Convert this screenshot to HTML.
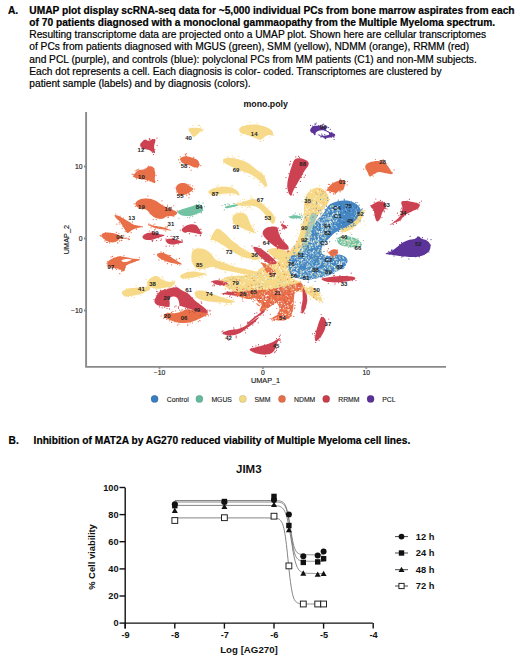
<!DOCTYPE html>
<html><head><meta charset="utf-8">
<style>
html,body{margin:0;padding:0;background:#fff;}
body{width:520px;height:657px;position:relative;overflow:hidden;font-family:"Liberation Sans",sans-serif;color:#000;}
.t{position:absolute;white-space:nowrap;font-size:10.2px;line-height:12.2px;-webkit-text-stroke:0.2px #000;}
.b{font-weight:bold;}
svg{position:absolute;left:0;top:0;}
</style></head><body>
<div class="t b" style="left:8px;top:4.90px">A.</div>
<div class="t b" style="left:29.3px;top:4.90px">UMAP plot display scRNA-seq data for ~5,000 individual PCs from bone marrow aspirates from each</div>
<div class="t b" style="left:29.3px;top:17.05px">of 70 patients diagnosed with a monoclonal gammaopathy from the Multiple Myeloma spectrum.</div>
<div class="t" style="left:29.3px;top:29.20px">Resulting transcriptome data are projected onto a UMAP plot. Shown here are cellular transcriptomes</div>
<div class="t" style="left:29.3px;top:41.35px">of PCs from patients diagnosed with MGUS (green), SMM (yellow), NDMM (orange), RRMM (red)</div>
<div class="t" style="left:29.3px;top:53.50px">and PCL (purple), and controls (blue): polyclonal PCs from MM patients (C1) and non-MM subjects.</div>
<div class="t" style="left:29.3px;top:65.65px">Each dot represents a cell. Each diagnosis is color- coded. Transcriptomes are clustered by</div>
<div class="t" style="left:29.3px;top:77.80px">patient sample (labels) and by diagnosis (colors).</div>
<div class="t b" style="left:8.6px;top:434.5px">B.</div>
<div class="t b" style="left:33.6px;top:434.5px">Inhibition of MAT2A by AG270 reduced viability of Multiple Myeloma cell lines.</div>

<svg width="520" height="657" viewBox="0 0 520 657" style="font-family:'Liberation Sans',sans-serif">
<g id="blobs"><path fill="#f7da89" d="M304.0 207.0C304.3 204.0 304.8 198.8 306.0 196.0C307.2 193.2 309.0 191.4 311.0 190.0C313.0 188.6 315.8 187.5 318.0 187.5C320.2 187.5 322.3 188.8 324.0 190.0C325.7 191.2 327.2 193.2 328.0 195.0C328.8 196.8 329.3 199.2 329.0 201.0C328.7 202.8 327.5 204.0 326.0 206.0C324.5 208.0 321.8 210.7 320.0 213.0C318.2 215.3 316.3 217.5 315.0 220.0C313.7 222.5 313.0 225.0 312.0 228.0C311.0 231.0 310.2 234.7 309.0 238.0C307.8 241.3 306.8 245.3 305.0 248.0C303.2 250.7 300.3 252.5 298.0 254.0C295.7 255.5 293.0 255.7 291.0 257.0C289.0 258.3 287.3 261.8 286.0 262.0C284.7 262.2 282.3 260.0 283.0 258.0C283.7 256.0 287.8 252.5 290.0 250.0C292.2 247.5 294.3 245.8 296.0 243.0C297.7 240.2 298.8 236.5 300.0 233.0C301.2 229.5 302.3 225.2 303.0 222.0C303.7 218.8 303.8 216.5 304.0 214.0C304.2 211.5 303.7 210.0 304.0 207.0Z"/>
<path fill="#f7da89" d="M222.0 279.0C223.3 277.9 225.7 277.0 228.0 276.5C230.3 276.0 233.0 276.2 236.0 276.0C239.0 275.8 242.7 275.7 246.0 275.0C249.3 274.3 253.3 273.3 256.0 272.0C258.7 270.7 259.7 268.5 262.0 267.0C264.3 265.5 267.3 264.0 270.0 263.0C272.7 262.0 275.7 261.7 278.0 261.0C280.3 260.3 282.0 259.0 284.0 259.0C286.0 259.0 288.7 259.2 290.0 261.0C291.3 262.8 291.7 267.2 292.0 270.0C292.3 272.8 290.7 276.0 292.0 278.0C293.3 280.0 297.8 280.5 300.0 282.0C302.2 283.5 303.0 285.8 305.0 287.0C307.0 288.2 309.8 287.8 312.0 289.0C314.2 290.2 316.5 292.2 318.0 294.0C319.5 295.8 321.3 299.0 321.0 300.0C320.7 301.0 318.2 301.0 316.0 300.0C313.8 299.0 310.7 295.5 308.0 294.0C305.3 292.5 302.5 291.8 300.0 291.0C297.5 290.2 295.3 289.5 293.0 289.0C290.7 288.5 288.5 288.0 286.0 288.0C283.5 288.0 281.0 288.5 278.0 289.0C275.0 289.5 271.3 290.1 268.0 291.0C264.7 291.9 261.3 293.5 258.0 294.5C254.7 295.5 251.0 296.9 248.0 297.0C245.0 297.1 242.7 296.0 240.0 295.0C237.3 294.0 234.3 292.3 232.0 291.0C229.7 289.7 228.0 288.3 226.0 287.0C224.0 285.7 220.7 284.3 220.0 283.0C219.3 281.7 220.7 280.1 222.0 279.0Z"/>
<path fill="#f7da89" d="M268.0 250.0C268.7 248.7 273.3 248.0 276.0 248.0C278.7 248.0 281.8 249.2 284.0 250.0C286.2 250.8 288.0 251.7 289.0 253.0C290.0 254.3 290.8 256.8 290.0 258.0C289.2 259.2 286.0 259.7 284.0 260.0C282.0 260.3 280.0 260.7 278.0 260.0C276.0 259.3 273.7 257.7 272.0 256.0C270.3 254.3 267.3 251.3 268.0 250.0Z"/>
<path fill="#f7da89" d="M180.0 276.0C180.5 275.0 183.7 273.2 186.0 272.5C188.3 271.8 191.7 271.5 194.0 271.5C196.3 271.5 198.0 272.1 200.0 272.5C202.0 272.9 206.3 273.3 206.0 274.0C205.7 274.7 200.7 275.8 198.0 276.5C195.3 277.2 192.5 277.7 190.0 278.0C187.5 278.3 184.7 278.8 183.0 278.5C181.3 278.2 179.5 277.0 180.0 276.0Z"/>
<path fill="#cd4252" d="M140.2 144.3C140.6 142.8 143.5 140.3 144.8 139.7C146.2 139.1 146.6 140.9 148.3 140.8C150.0 140.7 154.2 138.2 155.2 139.2C156.2 140.2 154.2 144.3 154.1 146.6C154.0 148.9 155.6 152.5 154.8 153.1C154.0 153.7 151.6 150.9 149.5 150.1C147.4 149.3 144.1 149.5 142.5 148.5C140.9 147.5 139.8 145.8 140.2 144.3Z"/>
<path fill="#f7da89" d="M188.7 128.6C189.7 127.6 194.5 127.6 196.8 127.7C199.1 127.8 202.1 128.5 202.5 129.3C202.9 130.2 200.4 131.5 199.0 132.8C197.6 134.1 195.3 136.7 194.0 136.9C192.7 137.1 191.9 135.3 191.0 133.9C190.1 132.5 187.7 129.6 188.7 128.6Z"/>
<path fill="#e86f48" d="M180.6 158.2C181.3 157.3 183.3 156.4 185.2 156.3C187.1 156.2 190.1 157.0 192.2 157.7C194.3 158.4 196.8 159.1 198.0 160.5C199.2 161.9 199.7 165.0 199.1 166.2C198.5 167.3 196.2 167.6 194.5 167.4C192.8 167.2 190.4 165.6 188.7 165.0C187.0 164.4 185.4 164.5 184.1 163.9C182.8 163.3 181.7 162.6 181.1 161.6C180.5 160.6 179.9 159.1 180.6 158.2Z"/>
<path fill="#f7da89" d="M239.5 128.2C240.3 127.0 242.3 126.0 245.2 125.4C248.1 124.8 253.3 124.4 256.8 124.7C260.3 125.0 263.5 126.0 266.0 127.0C268.5 128.0 270.7 129.2 271.8 130.5C272.9 131.8 273.5 134.3 272.9 135.1C272.3 135.9 269.8 134.7 268.3 135.1C266.8 135.5 265.1 136.6 263.7 137.4C262.3 138.2 261.7 139.6 260.2 139.7C258.7 139.8 256.6 138.6 254.5 137.8C252.4 137.0 249.8 135.9 247.5 135.1C245.2 134.3 241.9 134.0 240.6 132.8C239.3 131.7 238.7 129.4 239.5 128.2Z"/>
<path fill="#5b3399" d="M310.4 129.3C310.8 128.4 311.9 126.8 313.0 126.2C314.1 125.6 315.9 125.8 317.3 125.8C318.7 125.8 320.2 126.1 321.6 126.2C323.1 126.3 325.3 125.6 326.0 126.2C326.7 126.8 325.4 129.2 326.0 130.1C326.6 131.0 328.1 131.3 329.4 131.9C330.7 132.5 332.8 133.0 333.8 133.6C334.8 134.2 335.8 134.8 335.2 135.5C334.6 136.2 332.0 137.1 330.3 137.5C328.6 137.9 326.7 138.1 325.1 137.9C323.5 137.8 321.7 137.2 320.8 136.6C319.9 136.0 320.6 134.9 319.9 134.5C319.2 134.1 317.3 133.9 316.4 134.0C315.5 134.1 315.3 135.4 314.7 135.3C314.1 135.2 313.6 133.8 313.0 133.2C312.4 132.6 311.2 132.6 310.8 131.9C310.4 131.2 310.0 130.2 310.4 129.3Z"/>
<path fill="#f7da89" d="M223.3 159.3C224.1 158.5 226.5 157.7 229.0 157.7C231.5 157.7 235.2 158.5 238.3 159.3C241.4 160.2 244.4 161.1 247.5 162.8C250.6 164.5 254.1 167.6 256.8 169.7C259.5 171.8 262.0 172.9 263.7 175.5C265.4 178.1 267.0 183.3 267.2 185.1C267.4 186.9 266.2 187.0 264.8 186.2C263.4 185.3 261.5 182.0 259.0 180.0C256.5 178.0 253.2 175.6 250.0 174.0C246.8 172.4 243.3 171.8 240.0 170.5C236.7 169.2 232.7 167.3 230.0 166.0C227.3 164.7 225.1 163.6 224.0 162.5C222.9 161.4 222.5 160.1 223.3 159.3Z"/>
<path fill="#cd4252" d="M295.0 159.2C296.4 158.1 298.7 158.0 300.8 158.3C302.9 158.6 306.2 160.1 307.5 161.2C308.8 162.3 309.0 163.4 308.5 165.0C308.0 166.6 305.9 168.7 304.6 170.8C303.3 172.9 302.1 175.3 300.8 177.5C299.5 179.7 298.2 181.9 296.9 184.2C295.6 186.4 294.1 189.1 293.1 191.0C292.2 192.9 292.0 195.7 291.2 195.8C290.4 196.0 288.9 193.8 288.3 191.9C287.7 190.0 287.2 187.1 287.3 184.2C287.4 181.3 288.4 177.8 289.2 174.6C290.0 171.4 291.1 167.6 292.1 165.0C293.1 162.4 293.6 160.3 295.0 159.2Z"/>
<path fill="#e86f48" d="M365.2 166.2C365.6 164.6 367.7 163.2 369.8 162.3C371.9 161.4 375.4 160.8 377.9 160.9C380.4 161.0 382.9 161.5 384.8 162.8C386.7 164.1 388.3 166.7 389.5 168.5C390.7 170.3 392.4 173.1 391.8 173.9C391.2 174.7 388.1 173.5 386.0 173.2C383.9 172.9 381.2 171.8 379.1 172.0C377.0 172.2 374.9 173.5 373.3 174.3C371.8 175.1 370.8 177.0 369.8 176.6C368.8 176.2 368.3 173.7 367.5 172.0C366.7 170.3 364.8 167.8 365.2 166.2Z"/>
<path fill="#e86f48" d="M133.3 175.7C134.0 174.5 136.0 171.5 137.9 170.4C139.8 169.3 143.1 169.8 144.8 169.2C146.5 168.5 147.0 166.9 148.3 166.5C149.7 166.1 151.8 165.9 152.9 166.9C154.1 167.9 154.9 170.8 155.2 172.7C155.5 174.6 154.9 176.8 154.8 178.5C154.7 180.2 155.7 182.7 154.8 183.1C153.9 183.5 151.3 181.4 149.5 180.8C147.7 180.2 145.6 180.0 143.7 179.6C141.8 179.2 139.5 178.9 137.9 178.5C136.3 178.1 134.8 177.8 134.0 177.3C133.2 176.8 132.7 176.8 133.3 175.7Z"/>
<path fill="#e86f48" d="M176.0 187.7C176.2 186.3 177.0 185.0 178.3 184.2C179.7 183.4 182.4 182.9 184.1 183.1C185.8 183.3 187.2 184.4 188.7 185.4C190.2 186.4 193.1 187.7 193.3 188.8C193.5 190.0 191.2 191.3 189.9 192.3C188.6 193.3 186.8 194.0 185.2 194.6C183.6 195.2 181.9 196.2 180.6 195.8C179.3 195.4 178.0 193.7 177.2 192.3C176.4 191.0 175.8 189.0 176.0 187.7Z"/>
<path fill="#e86f48" d="M135.6 202.7C136.2 201.5 138.3 199.9 140.2 199.2C142.1 198.5 144.7 198.3 147.2 198.5C149.7 198.7 152.7 199.3 155.2 200.4C157.7 201.5 159.9 203.7 162.2 205.0C164.5 206.3 167.2 207.6 169.1 208.5C171.0 209.4 172.3 209.6 173.7 210.3C175.0 211.0 177.0 211.8 177.2 212.6C177.4 213.4 176.6 214.8 174.9 215.4C173.2 216.1 168.9 215.9 166.8 216.5C164.7 217.1 164.1 218.6 162.2 218.8C160.3 219.0 157.1 218.5 155.2 217.7C153.3 216.9 152.1 215.5 150.6 214.2C149.1 212.8 147.7 210.5 146.0 209.6C144.3 208.7 141.8 209.1 140.2 208.5C138.6 207.9 137.1 207.2 136.3 206.2C135.5 205.2 134.9 203.9 135.6 202.7Z"/>
<path fill="#72c2a4" d="M177.5 211.5C178.1 210.6 181.0 209.8 183.0 209.0C185.0 208.2 187.4 207.7 189.5 207.0C191.6 206.3 193.7 205.4 195.5 205.0C197.3 204.6 199.2 204.3 200.5 204.8C201.8 205.3 202.8 206.9 203.0 208.0C203.2 209.1 203.0 210.5 202.0 211.5C201.0 212.5 198.8 213.1 197.0 213.8C195.2 214.5 193.2 215.5 191.0 215.8C188.8 216.1 186.0 216.1 184.1 215.8C182.2 215.5 180.6 214.9 179.5 214.2C178.4 213.5 176.9 212.4 177.5 211.5Z"/>
<path fill="#f7da89" d="M208.3 192.0C208.3 190.8 210.6 189.4 212.9 188.5C215.2 187.6 219.1 186.9 222.2 186.7C225.3 186.5 228.9 186.7 231.4 187.4C233.9 188.1 235.8 189.5 237.2 190.8C238.5 192.2 240.1 195.0 239.5 195.5C238.9 196.0 235.8 194.0 233.7 193.6C231.6 193.2 229.1 193.1 226.8 193.2C224.5 193.3 222.1 193.9 219.8 194.3C217.5 194.7 214.8 195.9 212.9 195.5C211.0 195.1 208.3 193.2 208.3 192.0Z"/>
<path fill="#f7da89" d="M236.0 204.2C236.8 203.4 242.5 202.1 245.2 201.2C247.9 200.3 250.3 199.1 252.2 198.9C254.1 198.7 254.9 199.1 256.8 200.1C258.7 201.1 261.8 203.2 263.7 204.7C265.6 206.2 266.8 207.8 268.3 209.3C269.8 210.8 271.8 212.4 272.9 213.9C274.0 215.4 275.0 216.9 275.2 218.5C275.4 220.1 274.9 222.6 274.1 223.2C273.3 223.8 271.8 223.0 270.6 222.0C269.5 221.0 268.6 219.1 267.2 217.4C265.8 215.7 264.2 213.3 262.5 211.6C260.8 209.9 258.9 208.0 256.8 207.0C254.7 206.0 252.5 206.0 249.8 205.8C247.1 205.6 242.9 206.1 240.6 205.8C238.3 205.5 235.2 205.0 236.0 204.2Z"/>
<path fill="#72c2a4" d="M225.6 206.5C226.4 206.0 229.1 205.5 231.0 205.2C232.9 204.8 236.0 204.3 237.0 204.4C238.0 204.5 238.0 205.5 237.0 206.0C236.0 206.5 232.8 206.8 231.0 207.2C229.2 207.6 226.9 208.3 226.0 208.2C225.1 208.1 224.8 207.0 225.6 206.5Z"/>
<path fill="#f7da89" d="M232.5 217.4C232.9 215.8 234.4 214.3 236.0 213.5C237.6 212.7 240.1 212.5 241.8 212.8C243.5 213.1 245.2 213.9 246.4 215.1C247.6 216.2 247.9 218.0 248.7 219.7C249.5 221.4 250.0 223.4 251.0 225.5C252.0 227.6 254.7 231.5 254.5 232.4C254.3 233.3 251.5 231.8 249.8 231.2C248.1 230.6 246.0 229.7 244.1 228.9C242.2 228.1 240.0 227.6 238.3 226.6C236.6 225.6 234.7 224.7 233.7 223.2C232.7 221.7 232.1 219.0 232.5 217.4Z"/>
<path fill="#e86f48" d="M114.8 215.1C115.6 214.9 118.3 215.8 120.6 216.9C122.9 218.0 126.4 220.2 128.7 221.5C131.0 222.8 132.2 224.2 134.5 225.0C136.8 225.8 142.3 226.0 142.5 226.6C142.7 227.2 137.5 227.8 135.6 228.5C133.7 229.2 132.3 230.0 131.0 230.8C129.7 231.6 128.5 233.3 127.5 233.1C126.5 232.9 126.0 231.3 124.8 229.6C123.6 227.9 122.1 224.6 120.6 222.7C119.1 220.8 117.0 219.4 116.0 218.1C115.0 216.8 114.0 215.3 114.8 215.1Z"/>
<path fill="#e86f48" d="M148.3 225.0C148.7 224.7 154.6 225.7 157.5 226.2C160.4 226.7 163.3 227.2 165.6 228.0C167.9 228.8 171.6 230.5 171.4 230.8C171.2 231.1 167.2 230.1 164.5 229.6C161.8 229.1 157.9 228.8 155.2 228.0C152.5 227.2 147.9 225.3 148.3 225.0Z"/>
<path fill="#cd4252" d="M181.8 229.6C182.0 228.5 183.7 227.1 185.2 226.2C186.7 225.3 189.1 224.4 191.0 224.3C192.9 224.2 195.3 224.6 196.8 225.7C198.3 226.8 199.5 229.4 200.2 230.8C200.9 232.2 201.8 233.8 200.9 234.2C200.0 234.6 196.5 233.5 194.5 233.1C192.5 232.7 190.4 232.0 188.7 231.9C187.0 231.8 185.2 233.0 184.1 232.6C182.9 232.2 181.6 230.7 181.8 229.6Z"/>
<path fill="#e86f48" d="M101.7 234.2C102.4 233.3 105.0 232.8 106.8 232.6C108.6 232.4 110.8 232.8 112.5 233.1C114.2 233.4 115.5 233.5 117.2 234.2C118.9 234.9 121.0 236.4 122.9 237.2C124.8 238.0 129.1 238.5 128.7 238.8C128.3 239.1 122.7 238.3 120.6 238.8C118.5 239.3 117.7 241.2 116.0 241.8C114.3 242.4 111.9 242.6 110.2 242.3C108.5 242.0 106.9 240.8 105.6 240.0C104.3 239.2 103.2 238.7 102.6 237.7C101.9 236.7 101.0 235.0 101.7 234.2Z"/>
<path fill="#cd4252" d="M142.5 236.5C142.9 235.4 145.3 233.8 147.2 233.1C149.1 232.4 152.0 232.4 154.1 232.6C156.2 232.8 158.2 233.7 159.9 234.2C161.6 234.7 164.5 234.9 164.5 235.4C164.5 235.9 161.5 236.6 159.9 237.2C158.3 237.8 156.8 238.3 155.2 238.8C153.6 239.3 152.3 239.9 150.6 240.0C148.9 240.1 146.2 240.1 144.8 239.5C143.5 238.9 142.1 237.6 142.5 236.5Z"/>
<path fill="#cd4252" d="M165.6 240.0C166.0 239.2 168.5 238.9 170.2 238.8C171.9 238.7 173.9 238.9 176.0 239.5C178.1 240.1 182.5 241.6 182.9 242.3C183.3 243.0 180.0 243.1 178.3 243.5C176.6 243.9 174.2 244.6 172.5 244.6C170.8 244.6 169.1 244.3 167.9 243.5C166.8 242.7 165.2 240.8 165.6 240.0Z"/>
<path fill="#e86f48" d="M107.9 261.9C108.7 260.8 110.6 259.4 112.5 258.5C114.4 257.6 117.2 256.4 119.5 256.2C121.8 256.0 124.3 256.9 126.4 257.3C128.5 257.7 129.9 258.1 132.2 258.5C134.5 258.9 139.8 259.0 140.2 259.6C140.6 260.2 136.8 260.9 134.5 261.9C132.2 262.9 128.1 263.8 126.4 265.4C124.7 266.9 125.4 270.6 124.1 271.2C122.8 271.8 120.4 269.4 118.3 268.8C116.2 268.2 113.1 268.3 111.4 267.7C109.7 267.1 108.5 266.4 107.9 265.4C107.3 264.4 107.1 263.0 107.9 261.9Z"/>
<path fill="#ffffff" d="M121.5 260.2C121.9 259.7 124.3 259.1 126.0 259.0C127.7 258.9 131.2 259.2 131.5 259.6C131.8 260.0 129.3 261.0 128.0 261.4C126.7 261.8 124.6 262.2 123.5 262.0C122.4 261.8 121.1 260.7 121.5 260.2Z"/>
<path fill="#e86f48" d="M157.5 253.8C158.3 253.2 160.5 252.5 162.2 252.7C163.9 252.9 165.8 253.8 167.9 255.0C170.0 256.1 172.6 258.1 174.9 259.6C177.2 261.1 181.8 263.6 181.8 264.2C181.8 264.8 177.2 263.9 174.9 263.5C172.6 263.1 170.2 262.7 167.9 261.9C165.6 261.1 162.7 259.8 161.0 258.9C159.3 257.9 158.1 257.0 157.5 256.2C156.9 255.3 156.7 254.4 157.5 253.8Z"/>
<path fill="#f7da89" d="M192.1 251.9C192.7 250.3 193.2 249.8 194.8 249.2C196.4 248.6 199.5 248.4 201.5 248.6C203.5 248.8 205.3 249.7 206.9 250.6C208.5 251.5 209.9 252.8 211.0 253.9C212.1 255.0 212.7 256.3 213.6 257.3C214.5 258.3 214.7 259.1 216.3 260.0C217.9 260.9 220.6 261.8 223.1 262.7C225.6 263.6 228.2 264.5 231.1 265.4C234.0 266.3 237.4 267.3 240.6 268.1C243.8 268.9 247.1 269.5 250.0 270.1C252.9 270.8 256.0 271.4 258.0 272.0C260.0 272.6 262.0 273.3 262.0 274.0C262.0 274.7 260.0 275.8 258.0 276.0C256.0 276.2 252.9 275.4 250.0 275.0C247.1 274.6 243.8 274.1 240.6 273.5C237.4 272.9 234.5 272.1 231.1 271.4C227.7 270.7 223.5 270.2 220.4 269.4C217.3 268.6 214.6 266.9 212.3 266.7C210.1 266.5 208.9 267.7 206.9 268.1C204.9 268.6 202.0 269.4 200.2 269.4C198.4 269.4 197.4 269.0 196.2 268.1C195.0 267.2 193.6 265.6 192.8 264.0C192.0 262.4 191.5 260.6 191.4 258.6C191.3 256.6 191.5 253.5 192.1 251.9Z"/>
<path fill="#f7da89" d="M211.0 237.8C211.4 236.2 213.7 231.9 215.0 230.4C216.3 228.9 217.4 228.6 219.0 229.0C220.6 229.4 222.4 231.3 224.4 233.1C226.4 234.9 228.8 237.8 231.1 239.8C233.3 241.8 235.7 243.5 237.9 245.2C240.2 246.9 242.6 248.7 244.6 249.9C246.6 251.1 248.1 251.8 250.0 252.6C251.9 253.4 254.3 254.1 256.0 255.0C257.7 255.9 260.2 257.2 260.0 258.0C259.8 258.8 256.7 259.9 255.0 260.0C253.3 260.1 251.9 259.1 250.0 258.6C248.1 258.2 245.6 258.1 243.3 257.3C241.1 256.5 238.8 255.1 236.5 253.9C234.2 252.7 232.0 251.4 229.8 249.9C227.6 248.4 225.3 246.6 223.1 245.2C220.8 243.8 218.1 242.1 216.3 241.2C214.5 240.3 213.2 240.4 212.3 239.8C211.4 239.2 210.6 239.4 211.0 237.8Z"/>
<path fill="#cd4252" d="M263.0 231.3C263.7 229.7 266.0 227.8 268.3 227.1C270.6 226.4 274.9 226.0 276.7 227.1C278.5 228.2 278.0 231.4 278.9 233.5C279.8 235.6 280.6 237.9 282.0 239.8C283.4 241.7 286.2 243.5 287.3 245.1C288.4 246.7 289.4 248.6 288.4 249.3C287.3 250.0 283.3 249.8 281.0 249.3C278.7 248.8 276.7 247.6 274.6 246.2C272.5 244.8 270.1 242.5 268.3 240.9C266.5 239.3 264.9 238.2 264.0 236.6C263.1 235.0 262.3 232.9 263.0 231.3Z"/>
<path fill="#cd4252" d="M253.5 247.2C253.8 246.1 257.7 247.4 259.8 248.3C261.9 249.2 264.1 250.9 266.2 252.5C268.3 254.1 270.8 256.0 272.5 257.8C274.2 259.6 277.1 262.1 276.7 263.1C276.3 264.2 272.5 264.6 270.4 264.1C268.3 263.6 266.1 261.5 264.0 259.9C261.9 258.3 259.4 256.7 257.7 254.6C255.9 252.5 253.2 248.2 253.5 247.2Z"/>
<path fill="#f7da89" d="M121.8 292.3C122.2 291.0 125.2 289.6 127.5 288.8C129.8 288.0 132.9 287.9 135.6 287.7C138.3 287.5 141.5 287.7 143.7 287.5C145.9 287.3 147.9 286.2 149.0 286.5C150.1 286.8 150.7 288.5 150.0 289.5C149.3 290.5 146.6 291.4 144.8 292.3C143.0 293.2 141.2 294.0 139.1 294.6C137.0 295.2 134.5 295.5 132.2 295.8C129.9 296.1 126.9 297.1 125.2 296.5C123.5 295.9 121.4 293.6 121.8 292.3Z"/>
<path fill="#f7da89" d="M147.2 281.9C147.8 280.5 150.1 278.2 151.8 277.3C153.5 276.4 155.8 275.8 157.5 276.2C159.2 276.6 160.3 278.7 162.2 279.6C164.1 280.6 167.0 281.5 169.1 281.9C171.2 282.3 174.5 281.1 174.9 281.9C175.3 282.7 173.1 285.5 171.4 286.5C169.7 287.5 166.8 287.3 164.5 287.7C162.2 288.1 159.6 288.8 157.5 288.8C155.4 288.8 153.4 288.3 151.8 287.7C150.2 287.1 148.7 286.4 147.9 285.4C147.1 284.4 146.5 283.2 147.2 281.9Z"/>
<path fill="#cd4252" d="M154.4 301.5C154.3 300.1 155.5 297.9 156.4 296.2C157.3 294.5 158.3 292.5 159.8 291.4C161.3 290.3 163.2 289.9 165.2 289.4C167.2 288.8 169.9 288.4 171.9 288.1C173.9 287.8 175.5 286.9 177.3 287.4C179.1 287.8 180.9 289.8 182.7 290.8C184.5 291.8 186.5 292.4 188.1 293.5C189.7 294.6 190.8 296.2 192.1 297.5C193.4 298.8 194.5 300.1 196.1 301.5C197.7 302.9 199.8 304.2 201.5 305.6C203.2 307.0 205.2 308.4 206.2 309.6C207.2 310.8 208.1 312.3 207.6 313.0C207.1 313.7 204.8 313.9 202.9 313.6C201.0 313.3 198.2 311.8 196.0 311.0C193.8 310.2 192.0 309.7 190.0 309.0C188.0 308.3 185.7 307.5 184.0 307.0C182.3 306.5 181.5 306.0 180.0 306.0C178.5 306.0 176.8 306.9 175.0 307.0C173.2 307.1 171.1 307.0 169.0 306.9C166.9 306.8 164.5 306.5 162.5 306.2C160.5 305.9 158.4 305.7 157.1 304.9C155.8 304.1 154.5 302.9 154.4 301.5Z"/>
<path fill="#ffffff" d="M169.5 298.5C170.0 297.3 171.8 296.6 173.0 296.5C174.2 296.4 176.0 296.9 177.0 297.8C178.0 298.7 178.6 300.4 179.0 302.0C179.4 303.6 179.7 305.9 179.5 307.5C179.3 309.1 179.1 310.7 178.0 311.5C176.9 312.3 174.4 312.5 173.0 312.2C171.6 311.9 170.0 310.9 169.5 309.5C169.0 308.1 169.8 305.3 169.8 303.5C169.8 301.7 169.0 299.7 169.5 298.5Z"/>
<path fill="#e86f48" d="M163.8 315.0C164.4 314.3 166.1 313.3 167.9 313.0C169.7 312.7 172.4 313.4 174.6 313.2C176.8 313.0 179.5 312.4 181.3 311.8C183.1 311.2 184.0 310.0 185.4 309.6C186.8 309.2 188.2 309.3 190.0 309.5C191.8 309.7 194.0 310.5 196.0 311.0C198.0 311.5 200.1 312.2 202.0 312.5C203.9 312.8 207.1 312.4 207.6 313.0C208.1 313.6 206.5 315.0 205.0 316.0C203.5 317.0 201.0 318.1 198.8 319.0C196.7 319.9 194.8 321.0 192.1 321.7C189.4 322.4 185.6 323.1 182.7 323.1C179.8 323.1 177.1 322.4 174.6 321.7C172.1 321.0 169.6 319.8 167.9 319.0C166.2 318.2 165.2 317.7 164.5 317.0C163.8 316.3 163.2 315.7 163.8 315.0Z"/>
<path fill="#f7da89" d="M195.0 292.0C195.8 291.1 198.2 290.6 200.0 290.5C201.8 290.4 203.8 290.9 206.0 291.5C208.2 292.1 210.5 293.1 213.0 294.0C215.5 294.9 218.3 296.1 221.0 297.0C223.7 297.9 226.7 298.8 229.0 299.5C231.3 300.2 234.8 300.9 235.0 301.5C235.2 302.1 232.3 302.8 230.0 303.0C227.7 303.2 223.8 302.7 221.0 302.5C218.2 302.3 215.5 302.2 213.0 302.0C210.5 301.8 208.3 301.5 206.0 301.0C203.7 300.5 200.8 299.8 199.0 299.0C197.2 298.2 196.2 297.2 195.5 296.0C194.8 294.8 194.2 292.9 195.0 292.0Z"/>
<path fill="#cd4252" d="M212.2 281.1C212.9 280.5 216.9 280.0 219.6 280.4C222.2 280.8 227.4 282.4 228.1 283.2C228.8 284.0 225.9 285.1 223.8 285.3C221.7 285.5 217.3 284.9 215.4 284.2C213.5 283.5 211.5 281.7 212.2 281.1Z"/>
<path fill="#cd4252" d="M221.7 293.8C222.4 293.3 228.8 291.8 232.3 291.6C235.8 291.4 240.1 292.2 242.9 292.7C245.7 293.2 249.9 294.3 249.2 294.8C248.5 295.3 242.2 295.9 238.7 295.9C235.2 295.9 230.9 295.1 228.1 294.8C225.3 294.5 221.0 294.3 221.7 293.8Z"/>
<path fill="#4586c3" d="M328.5 205.4C330.3 203.6 332.6 203.1 334.6 202.3C336.7 201.5 338.5 201.1 340.8 200.8C343.1 200.6 346.2 200.4 348.5 200.8C350.8 201.2 352.8 202.1 354.6 203.1C356.4 204.1 358.2 205.5 359.2 206.9C360.2 208.3 360.9 209.7 360.8 211.5C360.7 213.3 359.5 215.6 358.5 217.7C357.5 219.8 356.2 222.3 354.6 223.8C353.0 225.3 351.4 225.5 349.0 226.5C346.6 227.5 342.6 228.8 340.0 230.0C337.4 231.2 335.5 232.3 333.6 233.8C331.7 235.3 330.1 237.3 328.4 239.0C326.7 240.7 324.4 242.5 323.3 244.2C322.2 245.9 321.5 247.7 321.5 249.4C321.5 251.1 321.9 253.4 323.3 254.6C324.8 255.8 327.6 256.3 330.2 256.3C332.8 256.3 336.2 254.4 338.8 254.6C341.4 254.8 344.2 256.1 345.7 257.2C347.1 258.3 347.8 259.9 347.5 261.5C347.2 263.1 345.7 265.1 344.0 266.7C342.3 268.3 339.7 269.6 337.1 271.0C334.5 272.4 331.6 274.2 328.4 275.4C325.2 276.6 321.4 277.3 318.0 278.0C314.6 278.7 311.1 279.7 307.7 279.7C304.2 279.7 300.2 279.0 297.3 278.0C294.4 277.0 291.8 275.8 290.4 273.6C289.0 271.4 288.7 267.9 288.7 265.0C288.7 262.1 288.4 258.3 290.4 256.3C292.4 254.3 298.2 255.2 300.8 252.9C303.4 250.6 304.6 246.0 306.0 242.5C307.4 239.0 308.0 234.8 309.0 232.0C310.0 229.2 310.6 228.1 312.0 226.0C313.4 223.9 315.7 221.7 317.7 219.5C319.7 217.3 322.0 215.4 323.8 213.1C325.6 210.8 326.7 207.2 328.5 205.4Z"/>
<path fill="#a9c9b0" d="M312.0 213.0C313.3 212.3 316.7 214.2 317.0 216.0C317.3 217.8 315.0 221.3 314.0 224.0C313.0 226.7 311.8 229.3 311.0 232.0C310.2 234.7 309.8 237.3 309.0 240.0C308.2 242.7 307.3 245.7 306.0 248.0C304.7 250.3 302.5 252.8 301.0 254.0C299.5 255.2 297.0 256.0 297.0 255.0C297.0 254.0 299.8 250.5 301.0 248.0C302.2 245.5 303.2 243.0 304.0 240.0C304.8 237.0 305.2 233.3 306.0 230.0C306.8 226.7 308.0 222.8 309.0 220.0C310.0 217.2 310.7 213.7 312.0 213.0Z"/>
<path fill="#e86f48" d="M326.9 190.0C326.9 189.0 328.7 186.7 330.0 185.4C331.3 184.1 333.1 183.1 334.6 182.3C336.1 181.5 337.8 181.2 339.2 180.8C340.6 180.4 342.1 179.8 343.1 180.0C344.1 180.2 345.1 181.3 345.4 182.3C345.6 183.3 345.0 184.9 344.6 186.2C344.2 187.5 344.0 189.2 343.1 190.0C342.2 190.8 340.4 190.3 339.2 190.8C338.0 191.3 337.2 192.8 336.2 193.1C335.2 193.3 334.1 192.6 333.1 192.3C332.1 192.0 331.0 191.9 330.0 191.5C329.0 191.1 326.9 191.0 326.9 190.0Z"/>
<path fill="#cd4252" d="M370.7 206.2C370.9 205.0 373.5 203.8 374.9 203.0C376.3 202.2 377.5 201.5 379.1 201.5C380.7 201.5 383.3 202.1 384.4 203.0C385.5 203.9 385.9 205.6 385.5 207.2C385.1 208.8 383.2 210.6 382.3 212.5C381.4 214.4 381.1 217.3 380.2 218.8C379.3 220.3 377.9 221.8 377.0 221.4C376.1 221.1 375.4 218.5 374.9 216.7C374.4 214.9 374.5 212.2 373.8 210.4C373.1 208.7 370.5 207.4 370.7 206.2Z"/>
<path fill="#cd4252" d="M389.7 225.2C389.9 224.8 393.2 222.6 395.0 221.0C396.8 219.4 399.1 217.8 400.3 215.7C401.5 213.6 402.2 210.6 402.4 208.3C402.6 206.0 400.8 203.1 401.3 201.9C401.8 200.7 403.7 200.9 405.6 200.9C407.6 200.9 410.7 201.4 413.0 201.9C415.3 202.4 418.4 202.9 419.3 204.0C420.2 205.1 419.5 207.1 418.3 208.3C417.1 209.5 414.0 210.4 411.9 211.4C409.8 212.4 407.5 213.2 405.6 214.6C403.7 216.0 402.2 218.5 400.3 219.9C398.4 221.3 395.8 222.2 394.0 223.1C392.2 224.0 389.5 225.5 389.7 225.2Z"/>
<path fill="#5b3399" d="M385.5 253.8C385.1 253.1 389.9 252.1 391.8 251.0C393.7 249.9 395.4 248.3 397.1 247.0C398.8 245.7 400.2 244.1 402.0 243.0C403.8 241.9 405.9 240.9 408.0 240.2C410.1 239.5 412.7 239.6 414.5 239.0C416.3 238.4 417.6 236.6 418.7 236.5C419.8 236.4 420.1 237.9 421.4 238.6C422.7 239.3 425.2 239.6 426.7 240.6C428.2 241.6 429.8 243.1 430.3 244.8C430.8 246.5 430.5 248.9 429.5 250.6C428.5 252.3 426.8 253.8 424.5 254.8C422.2 255.9 419.2 256.6 416.0 256.9C412.8 257.2 408.7 256.7 405.0 256.4C401.3 256.1 397.2 255.6 394.0 255.2C390.8 254.8 385.9 254.5 385.5 253.8Z"/>
<path fill="#72c2a4" d="M338.0 238.0C339.0 236.8 341.7 236.2 344.0 236.0C346.3 235.8 349.7 236.3 352.0 237.0C354.3 237.7 356.3 238.8 358.0 240.0C359.7 241.2 362.0 242.8 362.0 244.0C362.0 245.2 360.0 246.5 358.0 247.0C356.0 247.5 352.5 247.2 350.0 247.0C347.5 246.8 345.0 246.7 343.0 246.0C341.0 245.3 338.8 244.3 338.0 243.0C337.2 241.7 337.0 239.2 338.0 238.0Z"/>
<path fill="#f7da89" d="M351.0 224.0C353.5 222.2 354.6 221.2 356.0 219.5C357.4 217.8 358.6 215.8 359.5 214.0C360.4 212.2 360.8 209.3 361.5 209.0C362.2 208.7 363.5 210.3 363.5 212.0C363.5 213.7 362.8 216.7 361.5 219.0C360.2 221.3 358.1 224.1 356.0 226.0C353.9 227.9 351.3 229.4 349.0 230.5C346.7 231.6 343.3 232.6 342.0 232.5C340.7 232.4 339.5 231.4 341.0 230.0C342.5 228.6 348.5 225.8 351.0 224.0Z"/>
<path fill="#cd4252" d="M321.6 278.8C322.6 278.0 328.1 277.2 331.7 276.7C335.3 276.2 339.7 275.9 343.3 275.9C346.9 275.9 351.5 276.1 353.4 276.7C355.3 277.3 356.0 278.8 354.8 279.6C353.6 280.4 349.6 281.1 346.2 281.6C342.8 282.1 338.0 282.5 334.6 282.5C331.2 282.5 328.2 282.2 326.0 281.6C323.8 281.0 320.7 279.6 321.6 278.8Z"/>
<path fill="#cd4252" d="M321.0 317.5C322.0 316.3 323.2 317.1 324.0 317.8C324.8 318.5 325.9 319.6 326.0 321.5C326.1 323.4 325.7 326.9 324.8 329.5C323.9 332.1 322.1 335.3 320.5 337.2C318.9 339.1 316.3 341.5 315.5 341.0C314.7 340.5 315.2 336.7 315.6 334.0C316.0 331.3 317.1 327.8 318.0 325.0C318.9 322.2 320.0 318.7 321.0 317.5Z"/>
<path fill="#e86f48" d="M255.0 298.1C255.2 297.0 257.8 296.0 259.6 295.0C261.4 294.0 263.5 292.9 265.8 291.9C268.1 290.9 270.9 289.6 273.5 288.8C276.1 288.0 278.6 287.8 281.2 287.3C283.8 286.8 286.2 286.4 288.8 285.8C291.4 285.2 294.4 284.0 296.5 283.5C298.6 283.0 300.2 282.1 301.2 282.7C302.2 283.3 303.0 286.0 302.7 287.3C302.4 288.6 300.6 289.6 299.6 290.4C298.6 291.2 297.4 290.9 296.5 291.9C295.6 292.9 294.7 294.2 294.2 296.5C293.7 298.8 293.9 303.0 293.5 305.8C293.1 308.6 292.7 311.4 291.9 313.5C291.1 315.6 290.1 317.0 288.8 318.1C287.5 319.2 286.0 320.0 284.2 320.4C282.4 320.8 279.9 320.5 278.1 320.4C276.3 320.3 274.5 320.0 273.5 319.6C272.5 319.2 271.4 318.9 271.9 318.1C272.4 317.3 275.2 316.6 276.5 315.0C277.8 313.4 279.6 310.9 279.6 308.8C279.6 306.8 277.5 303.5 276.5 302.7C275.5 301.9 275.0 303.2 273.5 304.2C272.0 305.2 269.1 307.5 267.3 308.8C265.5 310.1 264.0 311.6 262.7 311.9C261.4 312.2 259.9 311.4 259.6 310.4C259.4 309.4 261.4 307.2 261.2 305.8C260.9 304.4 259.1 303.2 258.1 301.9C257.1 300.6 254.8 299.2 255.0 298.1Z"/>
<path fill="#e86f48" d="M236.0 293.0C237.0 292.2 241.3 291.4 244.0 291.0C246.7 290.6 249.3 290.7 252.0 290.5C254.7 290.3 257.3 290.1 260.0 290.0C262.7 289.9 267.7 289.3 268.0 290.0C268.3 290.7 264.0 292.8 262.0 294.0C260.0 295.2 258.0 296.7 256.0 297.5C254.0 298.3 252.2 298.9 250.0 299.0C247.8 299.1 245.0 298.5 243.0 298.0C241.0 297.5 239.2 296.8 238.0 296.0C236.8 295.2 235.0 293.8 236.0 293.0Z"/>
<path fill="#cd4252" d="M262.7 311.0C265.4 309.2 265.1 311.3 264.0 312.5C262.9 313.7 258.5 316.2 256.0 318.0C253.5 319.8 250.4 322.7 249.0 323.5C247.6 324.3 245.2 325.1 247.5 323.0C249.8 320.9 259.9 312.8 262.7 311.0Z"/>
<path fill="#cd4252" d="M302.7 288.8C303.2 287.5 305.0 290.1 305.8 291.9C306.6 293.7 307.3 297.0 307.3 299.6C307.3 302.2 306.6 305.0 305.8 307.3C305.0 309.6 303.5 313.2 302.7 313.5C301.9 313.8 301.2 311.1 301.2 308.8C301.2 306.5 302.4 302.9 302.7 299.6C302.9 296.3 302.2 290.1 302.7 288.8Z"/>
<path fill="#cd4252" d="M222.1 333.5C222.8 332.8 226.0 331.0 228.5 330.3C231.0 329.6 234.4 329.7 236.9 329.2C239.4 328.7 241.2 328.2 243.3 327.1C245.4 326.1 247.5 324.3 249.6 322.9C251.7 321.5 254.4 319.6 256.0 318.7C257.6 317.8 259.5 316.9 259.1 317.6C258.7 318.3 256.1 321.0 253.8 322.9C251.5 324.8 247.9 327.4 245.4 329.2C242.9 331.0 241.5 332.4 239.0 333.5C236.5 334.6 233.1 335.4 230.6 335.6C228.1 335.8 225.6 334.9 224.2 334.5C222.8 334.1 221.4 334.2 222.1 333.5Z"/>
<path fill="#cd4252" d="M249.6 349.3C250.0 348.4 253.5 347.9 256.0 347.2C258.5 346.5 261.6 346.0 264.4 345.1C267.2 344.2 270.2 343.1 272.9 341.9C275.5 340.7 279.6 337.5 280.3 337.7C281.0 337.9 278.0 341.1 277.1 343.0C276.2 344.9 276.1 347.5 275.0 349.3C273.9 351.1 272.9 352.7 270.8 353.6C268.7 354.5 265.1 354.8 262.3 354.6C259.5 354.4 255.9 353.4 253.8 352.5C251.7 351.6 249.2 350.2 249.6 349.3Z"/>
<path fill="#f7da89" d="M308.9 286.9C309.4 286.1 312.5 287.1 314.0 288.0C315.5 288.9 316.8 290.3 318.0 292.0C319.2 293.7 320.9 296.4 321.5 298.0C322.1 299.6 322.4 301.7 321.5 301.7C320.6 301.7 317.8 299.4 316.0 298.0C314.2 296.6 312.2 294.9 311.0 293.0C309.8 291.1 308.4 287.7 308.9 286.9Z"/>
<path fill="#e86f48" d="M262.0 263.0C262.3 262.2 265.2 263.8 267.0 265.0C268.8 266.2 271.5 268.3 273.0 270.0C274.5 271.7 276.3 274.2 276.0 275.0C275.7 275.8 272.8 275.8 271.0 275.0C269.2 274.2 266.5 272.0 265.0 270.0C263.5 268.0 261.7 263.8 262.0 263.0Z"/>
<path fill="#ffffff" d="M315.5 133.2C315.8 132.4 317.2 131.3 318.5 130.8C319.8 130.3 321.6 130.1 323.0 130.3C324.4 130.5 325.9 131.2 327.0 131.8C328.1 132.4 329.7 133.4 329.5 134.0C329.3 134.6 327.5 135.3 326.0 135.6C324.5 135.9 322.0 135.9 320.5 135.8C319.0 135.8 317.8 135.7 317.0 135.3C316.2 134.9 315.2 133.9 315.5 133.2Z"/>
<path fill="#e86f48" d="M329.0 252.0C329.3 250.9 331.7 249.8 333.0 249.5C334.3 249.2 336.2 249.4 337.0 250.0C337.8 250.6 338.3 252.0 338.0 253.0C337.7 254.0 336.2 255.5 335.0 256.0C333.8 256.5 332.0 256.7 331.0 256.0C330.0 255.3 328.7 253.1 329.0 252.0Z"/>
<path fill="#72c2a4" d="M290.0 216.3C290.8 215.8 293.2 215.3 295.0 215.3C296.8 215.3 299.6 215.9 300.5 216.5C301.4 217.1 301.4 218.3 300.5 218.6C299.6 218.8 296.8 218.1 295.0 218.0C293.2 217.9 290.8 218.5 290.0 218.2C289.2 217.9 289.2 216.8 290.0 216.3Z"/>
<path fill="#cd4252" d="M281.0 224.5C281.3 224.2 283.0 224.3 284.0 224.8C285.0 225.3 286.9 226.7 287.2 227.3C287.5 227.9 286.7 228.7 285.8 228.6C284.9 228.5 282.8 227.3 282.0 226.6C281.2 225.9 280.7 224.8 281.0 224.5Z"/></g>
<g id="speck" stroke-width="1.2" stroke-linecap="round" fill="none"><path stroke="#7fb6da" d="M319.6 230.8h0M313.0 265.8h0M306.5 247.5h0M312.7 260.5h0M336.3 268.7h0M336.9 215.3h0M308.7 244.7h0M336.7 219.0h0M316.2 274.6h0M321.7 256.2h0M314.8 228.8h0M332.8 225.0h0M317.2 266.4h0M322.5 243.2h0M290.6 266.5h0M335.5 265.8h0M340.3 256.5h0M310.0 232.9h0M325.2 272.4h0M320.9 233.0h0M344.3 267.5h0M318.9 247.3h0M332.1 271.3h0M323.8 227.9h0M334.2 209.0h0M332.1 267.4h0M317.9 220.6h0M297.7 255.9h0M306.4 246.1h0M336.6 215.2h0M334.4 219.9h0M316.9 220.9h0M328.1 271.1h0M325.2 233.0h0M331.9 206.7h0M302.7 271.7h0M291.4 262.2h0M317.9 251.8h0M329.0 267.2h0M325.2 255.7h0M313.8 258.1h0M308.5 256.6h0M336.4 215.9h0M292.8 262.9h0M319.4 260.3h0M311.5 263.1h0M313.0 237.6h0M301.3 276.3h0M336.3 265.0h0M326.7 222.0h0M297.9 270.7h0M319.8 268.6h0M308.0 268.5h0M319.0 261.6h0M317.9 277.1h0M326.8 263.0h0M333.0 210.7h0M343.8 262.6h0M329.5 265.9h0M338.2 264.3h0M320.7 263.6h0M303.0 260.1h0M316.1 247.8h0M315.0 275.0h0M314.7 228.8h0M291.4 271.0h0M327.4 219.0h0M316.2 224.8h0M330.9 225.3h0M299.0 266.2h0M306.9 257.1h0M332.0 215.5h0M313.7 277.6h0M336.1 267.4h0M325.3 230.7h0M335.7 270.2h0M315.2 244.7h0M324.2 238.6h0M304.8 278.1h0M344.6 259.1h0M308.8 254.3h0M334.2 269.3h0M321.3 240.8h0M309.1 248.2h0M308.7 275.0h0M308.8 278.5h0M332.8 211.1h0M314.5 232.3h0M342.9 268.0h0M327.2 228.9h0M329.7 222.8h0M298.4 267.7h0M325.7 216.7h0M313.7 255.0h0M332.2 209.5h0M328.6 215.4h0M314.1 276.7h0M304.7 253.3h0M312.6 243.3h0M308.1 261.0h0M328.2 265.7h0M317.6 269.4h0M335.2 205.7h0M315.6 246.9h0M310.9 229.9h0M314.7 236.9h0M323.6 268.7h0M326.2 218.0h0M323.3 222.5h0M307.1 271.7h0M305.6 278.6h0M309.3 262.3h0M323.9 273.4h0M337.7 262.6h0M336.8 270.9h0M336.2 212.4h0M311.3 278.8h0M328.1 230.9h0M314.1 230.9h0M310.7 247.0h0M310.0 253.6h0M319.0 240.7h0M341.2 260.5h0M315.3 238.1h0M315.9 270.7h0M292.6 265.1h0M312.7 247.4h0M315.4 240.2h0M304.1 263.5h0M322.3 227.2h0M310.4 251.7h0M328.1 211.7h0M317.9 230.9h0M302.2 269.2h0M352.0 216.6h0M353.1 208.1h0M327.2 232.1h0M354.8 213.2h0M351.0 212.7h0M343.1 214.5h0M344.0 220.3h0M326.5 211.8h0M328.4 226.3h0M335.5 225.4h0M322.0 212.3h0M335.8 226.8h0M352.1 206.4h0M346.9 206.7h0M327.0 208.6h0M351.5 210.0h0M320.7 214.3h0M339.0 210.2h0M321.0 217.4h0M337.3 208.1h0M355.6 215.7h0M326.7 230.4h0M356.4 212.9h0M334.3 213.7h0M346.5 206.7h0M323.5 219.8h0"/><path stroke="#ffffff" d="M325.0 275.0h0M322.0 233.1h0M325.7 231.3h0M334.9 256.1h0M319.0 269.5h0M322.2 237.7h0M311.1 269.2h0M322.8 223.0h0M339.6 263.6h0M311.2 233.3h0M315.5 239.8h0M319.2 277.4h0M326.5 263.8h0M298.5 263.0h0M307.6 263.9h0M311.7 275.0h0M341.4 264.3h0M313.6 269.3h0M295.7 272.2h0M308.9 237.8h0M312.8 272.7h0M317.6 243.4h0M321.1 260.8h0M324.1 241.4h0M318.2 255.6h0M337.6 213.4h0M334.3 271.2h0M311.5 240.0h0M320.7 236.5h0M290.3 262.2h0M296.8 272.9h0M291.9 268.6h0M319.1 221.1h0M311.2 241.5h0M308.2 266.3h0M311.9 229.4h0M292.2 259.3h0M322.5 270.9h0M328.3 255.7h0M294.2 266.5h0M324.9 254.7h0M317.7 243.7h0M331.5 222.2h0M331.8 226.1h0M327.9 225.1h0M318.5 238.3h0M300.4 274.9h0M306.6 266.9h0M309.3 235.5h0M294.0 266.4h0M321.6 270.4h0M311.1 273.4h0M343.5 257.9h0M290.3 262.5h0M325.5 256.1h0M327.4 273.3h0M335.0 259.2h0M336.4 220.5h0M301.1 260.8h0M327.2 212.2h0M321.4 231.3h0M297.0 270.2h0M316.0 265.3h0M303.0 248.6h0M328.0 217.1h0M311.3 244.8h0M306.1 275.4h0M309.1 234.6h0M325.8 272.1h0M318.7 273.3h0M323.4 244.8h0M325.0 226.3h0M312.8 247.3h0M313.1 253.1h0M333.1 262.3h0M331.3 262.1h0M317.7 231.7h0M332.6 215.1h0M336.1 213.9h0M317.6 272.9h0M317.9 227.2h0M297.5 274.2h0M309.3 261.1h0M322.6 253.4h0M318.2 271.1h0M339.4 262.4h0M336.0 216.3h0M307.8 260.0h0M330.0 223.2h0M303.7 251.8h0M315.7 266.8h0M292.6 272.2h0M294.3 273.6h0M329.1 259.0h0M309.4 265.1h0M338.0 264.7h0M325.3 224.8h0M338.9 209.9h0M329.1 262.8h0M310.4 270.2h0M327.1 259.4h0M346.0 263.4h0M330.6 269.9h0M297.5 262.4h0M319.9 257.5h0M295.6 262.0h0M313.3 251.4h0M291.4 265.9h0M341.3 263.2h0M323.9 262.4h0M334.5 266.7h0M320.7 223.1h0M315.6 245.8h0M327.3 266.9h0M307.5 277.6h0M318.1 239.8h0M309.6 239.1h0M290.4 257.9h0M328.2 219.2h0M333.7 272.5h0M336.5 262.8h0M321.2 222.6h0M326.0 219.1h0M330.4 221.4h0M331.3 217.2h0M291.0 261.8h0M330.1 268.0h0M331.1 209.4h0M303.0 276.3h0M325.2 234.8h0M321.4 225.2h0M323.5 226.5h0M336.1 270.4h0M290.5 266.3h0M321.7 223.8h0M328.4 272.4h0M299.8 260.0h0M298.7 256.3h0M311.7 242.3h0M343.8 261.3h0M323.3 233.2h0M325.8 275.7h0M327.5 232.9h0M337.4 206.6h0M330.3 217.8h0M301.0 274.0h0M339.1 270.5h0M296.5 269.2h0M306.8 271.6h0M324.1 256.8h0M337.7 268.7h0M309.9 248.2h0M295.1 257.3h0M336.2 268.8h0M310.5 260.1h0M291.6 269.3h0M329.2 217.8h0M329.5 210.8h0M310.9 235.0h0M313.5 241.4h0M345.2 262.0h0M328.0 223.8h0M306.0 252.2h0M324.4 267.6h0M331.6 259.5h0M321.7 234.8h0M311.1 245.2h0M334.4 267.6h0M337.8 266.7h0M313.2 272.2h0M342.3 261.8h0M314.0 250.5h0M319.3 265.0h0M306.1 255.5h0M317.4 245.0h0M303.7 252.2h0M293.9 271.7h0M322.4 229.5h0M323.6 276.0h0M319.5 232.3h0M295.3 265.8h0M297.2 256.6h0M335.5 215.1h0M308.8 257.9h0M323.9 219.2h0M318.3 244.2h0M304.0 261.7h0M310.7 253.0h0M321.5 226.6h0M306.9 253.4h0M309.3 241.0h0M295.4 257.5h0M312.3 253.1h0M329.3 221.9h0M325.1 216.8h0M294.8 272.4h0M331.3 257.2h0M294.6 263.1h0M329.0 232.9h0M313.3 241.9h0M333.0 206.3h0M329.5 264.2h0M318.4 236.8h0M320.3 260.8h0M323.3 238.0h0M299.6 256.3h0M293.0 257.5h0M337.0 259.4h0M317.2 241.0h0M335.9 207.6h0M305.5 246.4h0M308.3 270.3h0M294.6 268.5h0M319.3 222.1h0M333.7 213.4h0M333.8 207.4h0M297.9 259.7h0M320.4 264.0h0M294.7 273.3h0M327.8 222.3h0M305.1 255.2h0M298.8 265.2h0M319.2 275.7h0M339.5 261.8h0M307.1 278.1h0M316.4 230.9h0M335.8 269.5h0M307.3 259.9h0M326.3 233.8h0M307.7 240.6h0M324.2 258.0h0M333.3 209.8h0M319.8 247.7h0M330.0 261.0h0M314.7 224.1h0M318.9 274.5h0M332.6 209.8h0M320.8 216.8h0M333.9 221.4h0M311.7 268.7h0M332.3 265.5h0M316.6 270.7h0M322.2 270.1h0M338.9 216.9h0M328.3 209.9h0M308.0 272.8h0M330.3 270.0h0M301.8 263.2h0M317.8 220.6h0M298.6 255.1h0M308.9 240.7h0M300.7 276.5h0M312.1 245.3h0M312.7 276.9h0M310.8 232.3h0M303.0 249.4h0M301.8 250.8h0M303.6 272.1h0M318.8 239.2h0M318.9 243.1h0M336.0 221.1h0M332.8 214.4h0M330.4 223.9h0M337.2 209.9h0M325.5 268.3h0M330.0 225.4h0M312.1 252.3h0M314.0 240.3h0M318.2 265.7h0M327.6 259.3h0M333.4 261.5h0M339.1 263.9h0M319.7 231.4h0M322.4 230.8h0M319.5 234.1h0M314.2 269.7h0M338.9 208.5h0M323.2 216.7h0M337.5 214.1h0M303.2 271.8h0M290.5 266.5h0M337.6 214.5h0M316.6 268.7h0M323.3 244.1h0M304.0 270.9h0M323.3 276.5h0M307.7 237.2h0M302.6 259.4h0M321.7 255.4h0M301.5 260.0h0M318.6 225.2h0M322.1 220.8h0M227.9 282.9h0M279.5 267.1h0M283.0 287.6h0M269.7 266.7h0M290.0 274.8h0M229.5 283.0h0M287.0 282.2h0M284.0 268.9h0M284.6 287.3h0M286.9 269.7h0M225.6 284.0h0M271.9 265.2h0M266.6 267.1h0M292.3 280.7h0M268.8 269.4h0M287.5 268.1h0M282.5 263.3h0M319.1 296.3h0M263.0 272.9h0M246.2 289.4h0M281.0 270.8h0M267.0 288.4h0M245.8 278.2h0M261.5 285.1h0M309.6 290.0h0M275.3 277.7h0M254.3 291.1h0M277.9 263.3h0M272.4 278.8h0M256.6 273.9h0M263.7 288.4h0M263.8 274.6h0M270.5 286.4h0M276.6 264.9h0M272.2 266.2h0M240.4 283.0h0M253.9 290.4h0M282.4 271.4h0M251.9 279.7h0M238.5 278.7h0M262.9 273.4h0M305.8 288.9h0M275.5 275.5h0M268.2 272.6h0M308.2 289.9h0M238.3 284.0h0M318.4 299.8h0M254.0 275.2h0M277.6 288.9h0M282.1 272.0h0M311.3 291.5h0M252.1 290.1h0M235.1 290.2h0M286.1 270.4h0M263.1 282.4h0M245.2 292.4h0M223.4 278.6h0M266.9 278.2h0M317.2 296.9h0M276.0 275.6h0M234.2 282.9h0M283.6 282.1h0M275.9 267.4h0M231.2 289.6h0M256.8 286.1h0M261.7 281.3h0M262.7 268.7h0M229.4 278.6h0M265.7 279.6h0M262.8 271.6h0M235.8 284.6h0M225.9 279.8h0M287.6 276.8h0M287.7 268.1h0M278.9 288.6h0M255.1 287.5h0M257.0 288.2h0M268.8 272.8h0M257.7 279.9h0M279.4 268.1h0M248.0 279.6h0M270.9 276.2h0M273.7 270.3h0M271.6 274.4h0M264.4 276.3h0M263.1 266.9h0M280.1 269.5h0M257.5 290.2h0M253.6 286.9h0M281.7 271.0h0M251.4 276.1h0M244.6 283.1h0M243.0 284.6h0M275.4 274.9h0M246.3 289.9h0M257.3 276.7h0M271.3 270.9h0M290.9 280.2h0M241.2 295.0h0M273.7 272.4h0M265.1 275.6h0M314.8 198.9h0M305.5 206.2h0M316.2 196.0h0M307.0 209.9h0M301.1 243.8h0M296.9 240.8h0M311.3 202.0h0M321.6 205.4h0M323.4 207.4h0M298.1 250.7h0M309.8 225.1h0M309.1 211.8h0M317.9 211.2h0M320.2 206.0h0M305.7 212.4h0M302.5 249.8h0M311.6 192.4h0M317.9 190.9h0M290.5 250.1h0M325.7 192.3h0M320.3 204.6h0M309.1 208.0h0M323.9 205.6h0M305.1 215.8h0M313.4 210.4h0M306.7 208.9h0M300.2 249.2h0M309.8 220.8h0M308.9 202.9h0M308.1 216.4h0M318.5 203.7h0M313.8 202.8h0M295.4 253.4h0M344.6 236.3h0M359.5 243.3h0M358.2 244.0h0M349.0 243.1h0M338.4 239.6h0M345.5 237.4h0M357.8 244.9h0M343.0 237.2h0M355.4 244.2h0M351.7 237.4h0M347.5 240.9h0M352.2 240.0h0M344.9 241.1h0M345.8 236.6h0M359.4 245.2h0M340.7 242.5h0M351.8 239.6h0M351.5 237.9h0M359.6 241.7h0M344.1 242.4h0M344.6 244.6h0M341.2 238.4h0M278.3 303.2h0M292.3 303.5h0M288.8 310.8h0M286.2 295.5h0M279.6 293.8h0M282.5 316.5h0M262.9 296.7h0M280.9 293.8h0M270.5 291.8h0M275.1 318.4h0M261.0 295.8h0M288.8 286.5h0M287.6 296.1h0M266.9 308.3h0M284.7 314.0h0M282.5 319.2h0M294.9 291.4h0M270.1 303.8h0M256.7 299.1h0M261.2 305.3h0M281.3 303.4h0M286.2 307.1h0M280.7 301.0h0M265.4 298.9h0M274.7 301.9h0M266.5 295.6h0M274.1 293.5h0M291.3 304.3h0M285.1 289.1h0M276.7 315.0h0M266.0 296.6h0M270.7 304.6h0M289.2 313.5h0M265.5 301.6h0M274.5 292.4h0M288.2 306.9h0M291.1 295.8h0M280.4 292.3h0M290.4 312.2h0M292.2 292.2h0M284.5 304.3h0M295.4 293.9h0M261.1 299.4h0M283.3 308.3h0M289.1 309.6h0M280.5 308.3h0M295.7 285.9h0M283.6 316.5h0M266.3 299.5h0M279.0 301.3h0M280.7 312.4h0M294.8 295.2h0M282.6 302.4h0M299.8 287.5h0M291.0 295.7h0M299.5 290.3h0M295.3 284.9h0M285.3 306.2h0M289.1 300.2h0M258.5 299.4h0M292.5 302.5h0M277.9 314.3h0M285.0 318.7h0M273.9 291.1h0M287.7 305.6h0M287.8 302.3h0M280.3 306.6h0M264.5 294.2h0M276.5 318.0h0M260.0 303.1h0M275.1 291.7h0M271.2 299.9h0M295.8 290.9h0M282.7 312.5h0M285.5 314.6h0M295.8 287.8h0M267.6 295.0h0M282.4 314.6h0M260.5 299.5h0M260.5 303.9h0M267.1 298.2h0M273.6 300.4h0M291.0 286.7h0M272.6 318.0h0M275.1 319.0h0M282.0 303.8h0M262.8 297.7h0M288.9 315.3h0M278.7 301.6h0M286.2 288.9h0M294.8 294.0h0M268.2 295.5h0M294.1 288.3h0M265.7 295.2h0M261.2 304.0h0M282.9 302.3h0M294.9 291.6h0M287.9 309.9h0M279.1 290.3h0M279.6 291.5h0M278.1 289.4h0M298.5 287.5h0M264.6 301.4h0M283.7 291.2h0M295.5 293.4h0M295.7 292.1h0M285.4 317.1h0"/><path stroke="#a9d3e6" d="M306.2 265.0h0M331.0 224.9h0M316.0 253.5h0M309.2 270.2h0M289.5 269.4h0M324.2 214.3h0M338.9 255.9h0M297.9 261.7h0M338.3 264.3h0M336.3 259.2h0M303.3 255.6h0M324.8 271.4h0M322.4 271.7h0M329.3 269.6h0M327.0 213.9h0M292.3 274.3h0M303.5 276.1h0M302.4 276.4h0M316.0 241.2h0M331.3 264.7h0M327.6 255.6h0M305.6 259.2h0M300.3 271.9h0M315.0 244.9h0M317.4 254.3h0M328.3 218.1h0M327.3 275.1h0M327.2 231.8h0M310.0 272.9h0M312.2 264.7h0M299.6 260.2h0M307.2 277.5h0M331.5 218.1h0M322.1 227.8h0M313.0 265.3h0M335.1 223.1h0M296.0 274.2h0M326.1 236.7h0M343.3 258.7h0M334.2 257.4h0M332.0 227.8h0M313.8 261.7h0M308.5 266.2h0M303.4 274.7h0M325.0 230.0h0M297.2 267.1h0M333.7 256.2h0M325.1 222.0h0M315.7 245.7h0M326.9 230.5h0M341.4 262.6h0M325.5 262.6h0M322.9 274.3h0M293.2 269.1h0M309.4 252.0h0M310.8 262.8h0M310.2 255.0h0M323.5 271.1h0M323.8 254.5h0M322.2 271.2h0M334.5 214.9h0M323.2 229.2h0M321.5 222.9h0M320.9 269.2h0M322.9 260.6h0M298.6 261.6h0M330.0 218.0h0M302.8 265.1h0M339.3 257.5h0M324.7 222.0h0M310.6 247.5h0M320.8 240.3h0M305.4 261.7h0M334.3 256.8h0M317.4 276.2h0M321.9 269.9h0M318.8 265.6h0M322.4 275.9h0M306.6 271.3h0M330.4 219.8h0M316.6 263.2h0M314.2 266.6h0M310.2 275.8h0M317.8 220.3h0M340.1 268.5h0M300.4 272.5h0M320.1 222.0h0M325.0 274.1h0M336.4 256.6h0M308.0 236.3h0M326.2 225.7h0M313.9 268.6h0M332.7 211.7h0M294.0 266.1h0M342.1 269.2h0M328.7 264.4h0M321.1 261.6h0M334.9 269.3h0M305.9 261.0h0M321.6 226.0h0M309.1 261.9h0M323.5 228.1h0M316.1 252.8h0M294.4 258.7h0M297.5 254.9h0M323.3 237.4h0M296.9 258.9h0M306.7 269.8h0M296.7 259.1h0M339.6 257.5h0M311.6 227.2h0M319.0 249.6h0M298.2 265.5h0M315.2 251.7h0M310.5 266.2h0M335.3 218.2h0M321.3 227.6h0M314.8 274.0h0M312.5 253.1h0M308.3 274.8h0M307.6 267.0h0M316.8 263.1h0M322.5 225.5h0M342.0 219.7h0M336.2 215.9h0M346.3 210.6h0M329.0 210.5h0M339.3 205.6h0M324.4 220.1h0M355.5 215.9h0M357.6 208.0h0M345.6 209.1h0M328.4 234.8h0M334.4 225.4h0M331.7 230.3h0M341.5 224.5h0M356.5 214.4h0M332.6 219.8h0M333.2 228.0h0M332.6 223.8h0M322.6 217.6h0M346.5 205.2h0M325.0 209.8h0M336.4 226.9h0M344.5 214.3h0M336.8 227.2h0M339.5 210.0h0M338.0 222.6h0M355.9 209.9h0M337.1 219.4h0M336.3 209.7h0M342.3 210.8h0M336.2 221.1h0M324.7 221.9h0"/><path stroke="#9fd4bc" d="M314.7 225.8h0M310.8 253.8h0M291.5 261.4h0M309.8 246.0h0M319.4 262.2h0M341.7 262.5h0M319.1 274.0h0M307.2 242.4h0M314.7 243.5h0M301.0 275.4h0M318.4 228.8h0M320.6 273.4h0M293.0 266.9h0M331.0 218.6h0M314.5 223.4h0M314.6 225.9h0M337.5 212.1h0M330.5 206.8h0M326.7 225.9h0M312.4 242.8h0M336.7 268.0h0M318.8 254.8h0M326.2 261.1h0M298.9 274.1h0M332.0 205.4h0M309.0 265.4h0M333.2 206.1h0M313.4 240.5h0M336.5 261.7h0M303.3 262.1h0M326.4 218.5h0M312.0 270.1h0M311.9 267.3h0M318.6 232.2h0M330.8 271.2h0M332.7 205.9h0M337.5 211.9h0M317.0 275.7h0M322.2 270.1h0M322.8 218.5h0M321.2 229.6h0M320.7 236.1h0M302.1 272.0h0M325.4 265.7h0M332.7 218.6h0M304.7 257.4h0M317.0 263.6h0M311.7 233.0h0M329.5 267.1h0M325.3 238.2h0M321.9 259.9h0M325.9 237.5h0M306.5 250.7h0M324.7 234.1h0M318.2 251.6h0M312.2 275.0h0M311.2 261.0h0M300.9 263.9h0M342.8 267.9h0M296.3 266.2h0M299.6 255.7h0M313.9 270.1h0M288.4 266.9h0M310.1 234.8h0M312.9 245.1h0M317.7 223.6h0M326.6 263.2h0M305.7 247.6h0M325.9 274.0h0M336.2 209.1h0M313.9 254.4h0M296.5 263.6h0M313.3 270.5h0M312.9 247.6h0M309.4 245.9h0M295.1 275.9h0M327.9 225.7h0M325.1 213.9h0M309.5 278.3h0M323.9 240.7h0M330.6 207.2h0M314.3 242.2h0M318.3 243.3h0M322.9 268.4h0M318.7 236.0h0M321.6 252.4h0M299.9 257.0h0M314.0 258.9h0M323.8 231.8h0M330.7 225.3h0M317.5 236.7h0M318.2 241.4h0M312.3 262.9h0M327.4 217.9h0M313.9 250.1h0M306.2 269.5h0M300.3 275.3h0M339.5 212.3h0M341.6 261.9h0M330.3 222.4h0M337.2 262.0h0M332.1 266.0h0M331.6 266.1h0M325.1 237.4h0M305.7 270.2h0M346.5 260.0h0M326.5 222.1h0M309.7 244.9h0M309.8 266.2h0M337.6 268.0h0M327.3 265.8h0M321.2 229.5h0M309.9 247.1h0M328.1 232.8h0M300.8 270.9h0M325.5 229.6h0M306.6 276.8h0M316.2 263.7h0M339.4 214.1h0M336.9 212.3h0M298.6 262.9h0M320.5 262.9h0M323.1 238.1h0M327.1 215.5h0M298.0 274.6h0M317.6 270.7h0M288.3 265.6h0M284.9 285.0h0M252.3 276.1h0M239.3 288.0h0M266.0 285.1h0M266.7 275.5h0M310.9 289.1h0M251.5 294.8h0M287.2 267.5h0M238.9 281.4h0M262.8 283.7h0M262.4 280.0h0M247.5 293.4h0M289.8 275.1h0M276.0 286.2h0M306.0 291.4h0M279.6 286.8h0M268.4 279.3h0M255.3 280.8h0M263.8 266.9h0M255.5 289.2h0M226.0 280.7h0M258.7 287.3h0M301.4 287.0h0M236.2 287.0h0M256.4 283.8h0M260.5 287.2h0M314.3 292.4h0M255.7 294.9h0M241.5 277.5h0M248.4 296.8h0M244.3 294.1h0M282.1 282.1h0M231.6 285.9h0M254.2 276.1h0M243.5 291.4h0M309.4 235.8h0M304.2 230.3h0M319.4 210.3h0M303.3 244.3h0M325.5 195.6h0M317.1 194.8h0M306.2 241.1h0M293.3 250.7h0M303.5 221.9h0M312.7 225.1h0M304.2 228.6h0M312.2 227.2h0M323.3 191.9h0M306.7 216.2h0M306.3 198.2h0M323.5 199.6h0M322.7 206.6h0M303.5 222.4h0M304.5 218.1h0M310.2 227.9h0M307.7 227.2h0M313.1 204.2h0M311.8 208.3h0M299.1 244.2h0M303.4 242.1h0"/><path stroke="#eee3a6" d="M320.4 270.1h0M318.4 249.9h0M341.1 262.3h0M330.8 215.9h0M296.6 265.8h0M320.8 262.6h0M321.0 274.7h0M297.1 257.4h0M312.9 272.3h0M325.4 263.9h0M292.9 268.1h0M330.2 269.8h0M317.8 266.5h0M321.0 250.7h0M335.1 259.9h0M317.1 232.1h0M316.3 255.0h0M301.7 271.2h0M342.7 257.2h0M304.9 274.1h0M310.0 275.7h0M340.2 264.7h0M315.9 229.1h0M317.7 250.9h0M311.6 236.9h0M301.7 272.9h0M326.1 226.1h0M305.4 275.3h0M300.6 277.0h0M303.5 257.5h0M335.4 259.1h0M324.6 254.2h0M311.4 278.4h0M331.0 218.5h0M309.9 241.3h0M336.9 216.9h0M314.4 236.3h0M331.2 264.9h0M299.4 277.6h0M298.0 262.7h0M325.5 230.3h0M324.3 235.8h0M324.8 239.1h0M290.9 270.6h0M329.2 268.2h0M321.7 226.4h0M336.4 270.7h0M291.9 269.0h0M319.7 219.5h0M311.9 259.3h0M334.2 257.2h0M327.8 273.7h0M316.9 277.1h0M300.4 255.0h0M312.8 256.1h0M301.2 259.4h0M308.8 251.5h0M315.6 225.4h0M301.8 262.0h0M327.4 270.9h0M319.3 259.4h0M317.0 240.9h0M328.3 273.8h0M326.7 231.0h0M325.1 256.9h0M315.2 273.9h0M306.4 258.4h0M297.8 268.4h0M309.7 246.7h0M307.6 249.0h0M335.9 268.9h0M293.2 264.3h0M333.6 220.7h0M334.4 256.9h0M293.7 273.6h0M322.0 242.7h0M317.1 241.1h0M311.3 274.5h0M325.9 223.2h0M320.0 273.3h0M314.7 237.8h0M318.5 242.3h0M328.4 232.6h0M311.7 245.7h0M321.9 234.2h0M324.2 264.3h0M330.2 229.9h0M291.2 270.7h0M317.2 275.2h0M337.3 212.7h0M327.2 229.7h0M307.7 265.0h0M333.2 266.2h0M289.6 261.9h0M297.9 262.6h0M321.4 250.7h0M318.4 235.0h0M321.3 233.1h0M316.9 245.1h0M320.5 257.3h0M330.6 206.3h0M294.5 263.9h0M315.1 278.0h0M327.6 223.7h0M320.5 233.9h0M313.3 269.0h0M329.6 219.6h0M328.1 228.7h0M320.7 253.0h0M331.7 222.6h0M331.5 273.0h0M325.5 229.2h0M312.2 272.9h0M297.2 268.6h0M300.4 270.2h0M340.1 258.6h0M320.1 244.7h0M329.0 227.7h0M328.0 227.5h0M315.9 257.8h0M318.7 221.1h0M307.7 242.4h0M318.1 234.9h0M305.2 257.0h0M328.5 214.8h0M317.3 243.7h0"/><path stroke="#2f6aa8" d="M342.4 224.1h0M319.2 225.1h0M355.7 217.0h0M330.0 213.8h0M348.1 210.4h0M343.7 222.1h0M344.2 222.3h0M345.8 212.3h0M345.5 211.3h0M348.8 208.0h0M319.2 230.2h0M327.1 231.1h0M325.6 232.8h0M324.3 224.4h0M333.3 224.2h0M340.8 209.6h0M349.5 210.6h0M349.8 211.7h0M326.8 215.1h0M320.0 224.6h0M322.7 218.3h0M335.6 206.0h0M340.2 204.4h0M326.9 227.3h0M324.8 231.4h0M328.6 233.4h0M330.7 209.0h0M344.0 206.9h0M325.3 209.7h0M348.0 221.8h0M333.0 207.5h0M356.4 207.1h0"/><path stroke="#b8d8a0" d="M261.0 276.3h0M239.8 290.4h0M246.8 288.2h0M268.4 269.6h0M246.6 291.5h0M257.5 277.3h0M262.3 292.7h0M274.5 272.8h0M288.4 285.8h0M291.9 288.1h0M234.4 277.9h0M291.5 284.8h0M316.5 297.1h0M246.5 284.0h0M279.2 276.5h0M293.8 285.6h0M229.9 279.2h0M283.7 280.9h0M267.5 279.2h0M316.9 299.2h0M284.0 281.3h0M272.1 272.3h0M286.0 265.6h0M278.0 282.0h0M259.1 272.8h0M229.0 285.6h0M267.8 264.8h0M289.3 287.6h0M258.4 286.5h0M243.6 291.2h0M286.1 286.7h0M284.2 287.4h0M247.3 279.0h0M264.4 275.3h0M279.2 282.6h0M252.9 285.4h0M229.2 277.9h0M271.6 279.2h0M256.1 272.8h0M253.2 293.6h0"/><path stroke="#ef9a6a" d="M255.9 287.9h0M221.5 280.9h0M246.1 276.4h0M232.1 279.8h0M272.7 273.9h0M233.0 278.1h0M282.6 271.3h0M236.6 280.8h0M257.8 273.5h0M286.2 274.6h0M253.2 289.0h0M267.6 267.1h0M260.7 273.5h0M255.8 284.8h0M263.7 271.2h0M257.4 274.9h0M253.6 292.7h0M236.2 287.3h0M263.9 275.0h0M278.1 277.5h0M315.3 294.2h0M301.7 290.1h0M288.6 261.2h0M238.8 279.5h0M279.5 265.6h0M275.3 271.9h0M247.0 295.1h0M316.3 299.8h0M286.8 262.7h0M227.1 281.3h0M230.1 279.6h0M269.3 267.0h0M268.9 264.2h0M229.2 288.8h0M311.8 291.2h0M239.9 280.3h0M249.3 275.5h0M283.1 266.7h0M280.8 279.9h0M307.7 203.7h0M318.9 210.3h0M316.4 204.5h0M323.0 191.3h0M300.1 246.2h0M306.6 220.3h0M303.1 244.8h0M322.8 193.4h0M313.8 208.9h0M286.1 257.3h0M323.2 202.6h0M306.9 219.2h0M315.7 192.2h0M321.6 191.0h0M309.9 209.8h0M305.8 204.6h0M324.1 207.9h0M311.1 202.7h0M309.2 225.9h0M309.1 203.3h0M312.1 200.4h0M305.6 216.9h0M311.7 223.1h0M319.4 189.8h0M307.3 232.6h0M289.2 251.5h0M318.3 210.3h0M307.5 239.6h0M303.7 229.7h0M316.6 194.1h0M298.9 245.8h0M323.9 205.1h0M315.9 213.4h0M293.6 250.3h0M316.1 210.0h0M296.7 241.4h0M307.6 232.0h0"/><path stroke="#e86f48" d="M264.2 266.2h0M237.5 287.5h0M253.9 280.4h0M301.2 291.4h0M278.8 263.4h0M273.8 288.7h0M251.9 288.6h0M314.1 295.0h0M252.1 278.6h0M313.7 297.3h0M237.5 290.4h0M237.5 289.5h0M305.7 292.6h0M251.3 284.9h0M223.5 283.2h0M242.5 289.5h0M300.5 286.8h0M279.8 264.9h0M310.7 291.8h0M259.1 284.0h0M274.4 270.3h0M294.1 288.5h0M264.4 291.4h0M261.8 286.4h0M269.4 270.3h0M284.3 274.4h0M292.6 288.9h0M271.3 263.8h0M238.1 293.1h0M293.3 281.6h0M236.2 279.6h0M295.0 288.4h0M271.6 265.9h0M287.7 279.3h0M287.1 266.6h0M297.8 287.9h0M268.7 289.0h0M256.3 289.9h0M300.4 289.2h0M269.3 274.1h0M240.2 294.1h0M247.2 290.8h0M257.6 294.3h0M286.9 286.3h0M188.0 164.7h0M187.2 163.5h0M179.9 162.7h0M178.6 159.8h0M186.7 156.4h0M185.8 155.2h0M180.4 159.2h0M189.5 167.4h0M185.3 154.4h0M195.5 165.6h0M185.1 158.8h0M197.7 167.7h0M199.2 164.4h0M200.8 165.7h0M186.3 153.7h0M189.9 157.6h0M191.1 170.2h0M193.7 157.4h0M197.3 164.0h0M182.4 162.0h0M180.3 156.8h0M185.7 165.2h0M391.2 173.2h0M385.3 164.9h0M363.7 169.2h0M371.8 173.9h0M392.2 173.2h0M381.0 161.4h0M394.1 169.9h0M388.3 168.0h0M373.8 173.6h0M369.5 174.3h0M392.1 172.4h0M382.3 160.6h0M368.2 170.9h0M385.3 162.2h0M383.2 169.3h0M373.3 176.0h0M379.6 162.0h0M375.1 172.9h0M386.6 163.8h0M370.6 174.5h0M366.1 168.8h0M375.4 159.5h0M390.8 171.8h0M383.1 159.7h0M367.0 164.0h0M372.3 174.9h0M382.2 171.7h0M157.6 180.5h0M154.1 168.9h0M139.2 170.9h0M155.0 181.6h0M147.0 179.8h0M136.5 170.2h0M137.6 169.8h0M148.4 166.1h0M148.5 178.9h0M153.5 172.6h0M146.9 179.2h0M150.1 181.2h0M151.8 180.3h0M133.2 174.6h0M147.5 179.6h0M136.5 178.9h0M151.3 167.3h0M150.5 167.3h0M149.1 179.4h0M141.8 179.2h0M132.2 174.2h0M144.9 169.0h0M138.0 173.2h0M135.1 170.8h0M156.1 175.5h0M134.4 174.7h0M138.8 169.1h0M138.2 174.2h0M145.8 181.6h0M147.5 180.7h0M189.6 190.9h0M188.2 191.5h0M186.5 193.7h0M188.2 191.2h0M185.7 185.6h0M189.0 197.6h0M191.8 188.5h0M175.1 188.0h0M180.4 184.0h0M194.4 189.0h0M188.2 184.7h0M192.3 191.6h0M182.3 194.4h0M189.7 194.6h0M192.8 185.8h0M190.0 184.9h0M189.5 194.0h0M191.0 188.9h0M190.4 188.8h0M188.7 193.9h0M176.5 192.0h0M186.8 195.3h0M136.7 205.2h0M149.6 199.8h0M160.8 218.1h0M138.7 202.1h0M145.9 199.2h0M159.6 216.8h0M171.8 209.1h0M168.5 214.7h0M149.6 201.6h0M158.2 217.6h0M167.9 217.6h0M150.1 213.8h0M157.0 217.4h0M166.1 210.3h0M135.4 206.5h0M134.1 203.8h0M162.0 200.8h0M177.4 210.8h0M173.8 205.8h0M152.3 213.2h0M141.8 207.8h0M171.3 208.7h0M171.6 207.2h0M162.7 205.0h0M167.5 205.1h0M159.7 218.6h0M147.7 209.4h0M171.2 214.2h0M174.3 212.7h0M153.2 219.6h0M167.6 206.7h0M144.4 207.8h0M167.8 209.7h0M168.5 217.1h0M142.3 209.2h0M172.1 216.1h0M156.1 216.2h0M147.8 196.0h0M156.2 219.6h0M173.8 216.6h0M119.9 224.1h0M142.3 227.0h0M121.7 223.4h0M135.5 225.5h0M137.1 226.2h0M123.1 223.3h0M119.2 217.8h0M123.6 218.0h0M120.1 216.2h0M134.2 228.4h0M133.7 227.1h0M123.0 226.3h0M141.9 226.5h0M132.5 221.9h0M115.8 214.0h0M136.9 227.6h0M131.1 232.7h0M125.2 231.6h0M123.4 226.3h0M125.8 229.0h0M127.4 231.3h0M116.9 224.2h0M136.4 229.2h0M122.1 228.5h0M133.4 228.3h0M119.1 222.6h0M124.7 220.0h0M148.5 224.3h0M167.5 226.7h0M164.0 230.0h0M151.0 227.8h0M153.5 225.0h0M165.3 227.2h0M151.4 225.3h0M148.9 223.9h0M160.8 227.1h0M154.9 224.1h0M165.7 230.9h0M166.9 227.1h0M161.8 228.6h0M150.2 224.7h0M155.6 228.9h0M116.4 232.3h0M128.3 238.6h0M109.6 242.9h0M104.9 240.9h0M100.2 235.3h0M105.4 232.6h0M121.8 240.4h0M128.2 239.7h0M117.0 240.4h0M103.0 236.5h0M116.9 236.1h0M106.1 240.3h0M119.5 240.9h0M129.3 236.6h0M129.5 239.4h0M107.4 242.3h0M121.1 240.5h0M117.8 242.6h0M106.6 242.5h0M120.1 236.0h0M123.7 235.3h0M100.8 235.8h0M123.7 235.9h0M117.7 243.1h0M118.8 233.6h0M101.1 236.4h0M126.1 237.8h0M123.9 268.7h0M118.8 257.7h0M112.5 256.4h0M110.3 264.2h0M115.5 268.5h0M111.0 256.9h0M125.4 264.9h0M109.5 267.5h0M108.3 262.1h0M107.0 263.4h0M135.4 261.0h0M119.8 273.7h0M121.9 259.6h0M124.0 255.7h0M136.2 259.4h0M120.5 267.3h0M120.3 256.8h0M119.1 269.6h0M107.4 261.7h0M138.2 259.8h0M121.9 271.4h0M135.5 260.8h0M114.0 258.1h0M116.5 269.6h0M112.5 269.6h0M107.2 265.3h0M125.1 267.7h0M139.3 257.6h0M121.8 270.1h0M136.8 260.2h0M176.7 259.2h0M177.5 264.3h0M162.9 254.8h0M161.0 251.9h0M158.5 254.4h0M172.3 260.7h0M179.4 258.4h0M165.0 261.6h0M180.3 263.4h0M160.5 256.8h0M179.8 265.1h0M158.9 259.9h0M170.4 255.6h0M176.1 263.2h0M161.8 259.6h0M170.7 257.6h0M168.0 255.1h0M171.7 264.8h0M167.4 263.7h0M163.5 252.5h0M169.4 255.5h0M154.0 254.3h0M198.3 321.6h0M206.0 315.8h0M167.0 316.8h0M169.2 314.5h0M167.9 313.0h0M163.8 318.6h0M199.7 320.3h0M185.5 320.3h0M192.4 323.0h0M208.4 315.8h0M171.8 312.7h0M180.8 311.7h0M184.8 321.3h0M174.9 321.8h0M182.2 309.7h0M169.4 320.8h0M169.2 318.0h0M197.6 310.5h0M187.8 325.3h0M173.0 311.4h0M167.8 317.0h0M177.6 325.1h0M200.1 320.8h0M203.4 314.8h0M187.9 324.0h0M190.2 322.7h0M205.3 316.0h0M181.8 310.1h0M166.3 315.8h0M176.6 313.7h0M210.5 314.2h0M199.1 309.8h0M171.4 312.3h0M166.8 319.4h0M204.6 315.2h0M207.2 311.5h0M161.0 316.0h0M175.7 310.8h0M171.6 322.4h0M178.9 324.0h0M344.7 183.3h0M325.3 192.0h0M329.4 184.4h0M334.4 183.7h0M340.2 191.8h0M332.7 182.9h0M335.5 193.7h0M330.0 190.0h0M343.9 180.7h0M339.9 191.1h0M340.1 179.2h0M330.4 192.7h0M329.5 192.0h0M331.8 185.4h0M341.5 180.3h0M339.4 180.6h0M347.3 181.3h0M330.5 189.7h0M329.4 189.9h0M333.7 193.3h0M336.0 191.5h0M328.6 184.3h0M340.2 190.3h0M333.9 194.2h0M340.7 179.0h0M328.0 187.3h0M328.8 189.8h0M345.5 181.5h0M327.0 190.6h0M347.1 184.9h0M269.3 289.7h0M258.7 305.3h0M303.4 289.2h0M304.4 285.5h0M269.1 291.2h0M291.4 309.1h0M270.1 318.5h0M273.5 319.9h0M259.0 295.8h0M256.9 303.5h0M258.9 301.2h0M256.9 293.5h0M298.4 290.6h0M292.4 310.9h0M263.8 291.5h0M282.3 286.8h0M300.5 281.9h0M293.8 316.4h0M290.0 284.7h0M258.1 304.9h0M267.2 292.0h0M260.5 295.4h0M303.7 287.9h0M302.4 285.9h0M289.1 317.3h0M257.3 304.4h0M274.8 319.4h0M295.0 305.4h0M274.3 320.4h0M256.8 298.0h0M270.5 291.9h0M254.5 295.8h0M287.3 285.0h0M267.2 310.3h0M291.5 315.7h0M279.6 306.7h0M272.2 320.8h0M281.2 318.4h0M288.7 318.6h0M295.2 302.0h0M294.8 307.8h0M271.3 292.8h0M261.6 310.8h0M294.3 308.7h0M288.7 316.4h0M262.5 291.3h0M279.8 285.4h0M260.8 310.4h0M276.7 308.5h0M295.4 290.4h0M283.0 319.4h0M299.8 287.8h0M292.9 301.8h0M278.5 319.6h0M271.7 319.2h0M272.0 318.5h0M297.0 290.3h0M259.3 305.7h0M301.0 288.4h0M261.3 311.8h0M270.4 314.3h0M274.3 290.1h0M289.9 291.4h0M290.6 316.2h0M288.9 286.6h0M257.3 299.6h0M273.9 289.5h0M269.9 289.3h0M254.9 300.6h0M255.1 296.8h0M242.8 301.0h0M259.5 287.7h0M237.6 295.7h0M253.9 291.1h0M255.1 292.9h0M234.6 292.9h0M246.2 289.8h0M253.1 301.5h0M257.9 290.7h0M250.7 291.7h0M236.0 295.8h0M251.5 299.1h0M242.5 298.9h0M248.2 286.3h0M262.7 288.3h0M249.2 292.0h0M253.1 289.8h0M262.2 289.6h0M235.6 293.5h0M249.8 293.6h0M239.9 294.7h0M251.4 291.7h0M244.0 288.8h0M256.6 291.8h0M253.5 299.3h0M266.3 267.4h0M267.3 272.5h0M261.8 263.4h0M271.0 275.6h0M270.2 274.3h0M269.5 273.1h0M267.1 271.9h0M265.2 263.6h0M264.4 266.4h0M262.6 264.5h0M269.0 265.7h0M271.7 276.2h0M268.3 269.4h0M268.7 269.0h0M261.3 262.8h0M333.8 254.1h0M337.5 250.2h0M333.5 253.1h0M332.1 257.6h0M335.6 255.4h0M328.2 252.4h0M335.7 250.3h0M328.4 248.7h0M331.1 255.3h0M334.9 255.0h0M332.1 250.8h0M329.2 253.7h0M333.7 256.6h0M327.3 250.9h0M336.9 252.2h0"/><path stroke="#5b95c8" d="M286.3 258.1h0M306.8 197.7h0M316.2 208.2h0M305.9 201.4h0M294.8 248.2h0M304.3 240.7h0M312.9 217.5h0M303.5 246.6h0M327.7 200.5h0M307.9 215.5h0M305.6 217.6h0M298.9 247.4h0M321.0 194.8h0M320.5 199.4h0M294.1 246.3h0M317.0 203.5h0M306.1 244.8h0M300.6 250.0h0M327.4 197.9h0M320.7 210.0h0M313.1 216.8h0M308.8 201.7h0M307.5 235.1h0M318.4 211.0h0M316.5 202.2h0"/><path stroke="#d8eee4" d="M354.9 244.0h0M352.3 245.0h0M343.0 237.6h0M352.0 237.4h0M338.1 240.6h0M341.5 241.6h0M351.7 245.8h0M350.3 241.6h0M359.1 243.7h0M345.2 244.0h0M350.4 242.2h0M349.9 244.3h0M348.2 240.1h0M343.7 236.2h0M343.8 238.8h0M349.3 240.3h0M343.6 244.8h0M361.6 243.9h0M349.0 237.6h0M354.0 241.2h0M348.5 246.0h0"/><path stroke="#f2e6a8" d="M347.9 246.4h0M349.8 241.4h0M344.4 238.6h0M355.5 244.3h0M342.9 242.1h0M352.3 244.5h0M342.0 239.8h0M353.6 244.6h0M360.1 243.1h0M353.7 242.5h0M348.2 240.6h0M348.4 242.2h0M346.7 240.3h0M354.8 244.8h0M358.7 245.4h0M352.1 240.6h0M343.5 239.8h0M348.6 244.9h0M342.4 243.9h0M345.9 246.4h0M347.9 242.9h0M353.3 239.8h0M345.3 242.8h0M341.7 238.9h0M342.0 238.1h0M346.0 240.3h0M356.2 240.4h0"/><path stroke="#f2a07a" d="M296.3 290.0h0M293.5 299.8h0M283.9 309.5h0M270.5 293.0h0M272.5 302.1h0M263.4 299.6h0M280.2 305.5h0M281.4 306.4h0M284.1 288.4h0M290.7 293.0h0M281.4 305.0h0M285.0 308.9h0M286.3 298.9h0M286.5 295.2h0M286.1 309.5h0M278.5 317.2h0M274.1 291.5h0M255.7 298.5h0M288.9 297.1h0M289.1 313.2h0M294.1 285.9h0M295.9 284.9h0M271.4 298.1h0M264.2 308.4h0M276.5 317.8h0M273.1 299.6h0M278.7 317.7h0M262.6 296.7h0M283.4 313.4h0M263.6 300.1h0M277.4 297.9h0M282.2 311.6h0M282.1 288.9h0M271.2 297.3h0M290.0 303.1h0M280.9 296.5h0M262.0 301.7h0M286.3 314.1h0M293.6 302.7h0M278.5 318.6h0M282.4 318.8h0M262.7 308.4h0M278.4 296.9h0M291.5 286.5h0M278.5 291.2h0"/><path stroke="#d24655" d="M284.1 291.5h0M292.2 285.9h0M273.2 304.4h0M267.8 306.3h0M279.2 288.7h0M276.2 289.5h0M286.1 317.5h0M288.9 302.7h0M280.7 287.7h0M282.7 302.7h0M289.0 303.1h0M285.4 301.8h0M284.2 305.4h0M270.8 302.9h0M282.5 317.0h0M280.2 300.0h0M283.3 295.5h0M285.5 291.4h0M277.5 288.6h0M287.3 298.2h0M270.5 290.6h0M286.0 290.0h0M290.6 296.1h0M267.8 297.4h0M278.9 313.8h0M278.2 315.3h0M280.2 306.1h0M265.8 294.1h0M281.4 307.2h0M269.7 305.1h0M286.6 307.2h0M258.8 300.5h0M263.8 303.1h0M264.1 305.4h0M286.4 290.1h0M264.4 298.0h0M260.5 298.4h0M275.3 302.7h0M262.2 307.7h0M288.1 294.7h0M299.2 284.4h0M274.7 292.8h0M284.5 300.0h0M292.2 294.8h0M281.9 316.6h0M269.7 298.4h0M290.4 303.3h0M289.7 291.5h0"/><path stroke="#f7da89" d="M302.3 201.4h0M295.9 255.5h0M301.4 224.2h0M287.7 254.4h0M288.7 258.9h0M310.2 234.3h0M319.8 185.7h0M306.1 206.4h0M301.4 213.3h0M310.5 189.4h0M320.5 215.2h0M304.2 196.7h0M302.4 223.8h0M297.0 229.8h0M310.1 241.9h0M325.1 189.5h0M300.8 225.0h0M285.8 260.0h0M323.9 206.9h0M329.5 199.4h0M288.0 261.7h0M303.7 215.0h0M324.2 210.9h0M300.7 230.2h0M283.2 255.0h0M284.9 261.8h0M284.5 258.4h0M297.9 233.1h0M283.7 255.5h0M304.0 250.3h0M308.8 199.7h0M289.1 263.3h0M326.1 204.6h0M294.5 254.2h0M295.9 236.2h0M298.8 237.6h0M319.2 219.7h0M281.6 258.9h0M302.5 229.5h0M281.7 258.3h0M328.2 205.4h0M321.7 213.8h0M303.7 214.4h0M310.9 190.4h0M309.9 241.6h0M315.5 222.2h0M307.5 194.8h0M309.2 194.1h0M312.1 223.6h0M307.8 244.2h0M322.8 213.1h0M287.8 259.3h0M309.0 192.9h0M310.2 237.2h0M291.7 259.0h0M275.3 292.1h0M223.9 282.2h0M226.4 285.6h0M254.8 293.4h0M291.1 289.9h0M293.0 264.4h0M288.0 260.1h0M236.0 276.5h0M225.3 288.4h0M244.7 296.3h0M301.2 288.0h0M282.6 258.9h0M256.2 273.8h0M259.5 294.0h0M231.5 291.7h0M231.8 275.5h0M278.2 261.4h0M302.8 287.0h0M319.2 301.8h0M266.1 267.1h0M291.9 272.3h0M286.2 291.1h0M288.4 261.5h0M319.8 302.3h0M299.9 280.9h0M306.5 287.2h0M293.7 289.7h0M249.0 275.1h0M262.4 265.2h0M235.0 293.6h0M264.6 268.4h0M310.7 298.9h0M286.9 289.4h0M292.7 289.4h0M293.5 275.4h0M299.8 291.7h0M243.6 297.3h0M319.1 297.4h0M251.4 271.4h0M228.2 285.6h0M227.6 287.6h0M255.6 272.6h0M301.5 290.9h0M303.7 286.1h0M286.2 261.3h0M312.4 295.6h0M310.5 299.2h0M267.5 262.0h0M292.9 267.5h0M320.7 297.5h0M262.7 268.9h0M273.8 261.7h0M240.8 273.7h0M244.7 274.9h0M294.3 279.3h0M321.5 295.5h0M309.7 296.9h0M266.8 264.8h0M291.5 277.3h0M269.4 265.1h0M258.9 269.2h0M228.1 279.0h0M305.8 292.2h0M324.1 298.6h0M315.8 291.5h0M250.4 296.3h0M301.0 282.5h0M270.7 261.8h0M283.6 286.4h0M225.5 289.5h0M299.5 278.7h0M266.9 290.3h0M238.8 291.7h0M293.0 267.4h0M251.0 294.7h0M288.9 250.3h0M288.6 258.3h0M268.0 250.0h0M275.9 258.5h0M281.6 251.0h0M279.2 261.2h0M289.4 258.2h0M286.7 259.0h0M282.2 261.6h0M270.3 251.2h0M286.9 251.8h0M290.6 256.4h0M277.6 245.5h0M290.4 255.8h0M282.9 250.6h0M288.4 258.0h0M287.1 253.0h0M289.3 255.3h0M281.6 260.0h0M268.7 253.7h0M181.9 278.0h0M192.0 274.5h0M206.2 274.6h0M206.0 275.4h0M183.2 278.8h0M202.3 276.9h0M199.9 277.5h0M195.8 269.6h0M183.3 277.8h0M188.3 269.3h0M181.8 274.9h0M205.8 272.1h0M193.1 276.1h0M198.4 277.2h0M203.8 273.7h0M188.7 279.3h0M188.9 278.0h0M185.9 278.6h0M192.7 272.6h0M187.9 272.1h0M197.0 132.5h0M200.7 127.1h0M192.7 125.3h0M198.6 125.3h0M193.1 133.7h0M198.2 125.6h0M203.1 129.4h0M190.8 128.2h0M192.8 135.0h0M198.8 131.8h0M199.6 125.4h0M193.8 134.7h0M197.9 133.5h0M202.4 130.3h0M201.8 131.7h0M252.4 134.5h0M242.6 126.2h0M263.2 138.0h0M266.8 133.3h0M260.7 126.7h0M249.8 122.3h0M246.5 127.9h0M251.2 134.0h0M263.6 126.6h0M273.7 135.2h0M272.1 132.4h0M248.2 125.8h0M250.7 126.9h0M247.9 135.1h0M247.0 134.1h0M249.9 136.1h0M241.0 135.2h0M255.0 137.9h0M263.5 140.4h0M260.6 141.4h0M257.0 123.1h0M258.6 138.9h0M244.9 132.2h0M263.2 136.5h0M269.7 137.0h0M257.5 124.8h0M245.5 133.4h0M270.2 134.0h0M269.8 132.1h0M242.2 134.0h0M237.5 170.1h0M246.8 171.2h0M243.3 159.9h0M254.8 178.1h0M259.3 185.2h0M254.4 174.8h0M249.2 176.4h0M260.5 181.9h0M232.3 155.9h0M253.9 178.5h0M241.8 169.2h0M232.9 158.1h0M257.2 179.1h0M262.2 172.9h0M228.7 158.0h0M238.8 156.5h0M257.6 171.1h0M244.3 163.6h0M223.5 162.9h0M264.0 176.5h0M264.6 175.8h0M240.8 171.3h0M265.3 185.7h0M234.4 157.3h0M231.6 158.6h0M224.3 159.6h0M227.4 156.8h0M244.6 172.9h0M261.2 171.0h0M259.5 182.3h0M264.1 187.3h0M228.8 160.6h0M232.2 188.1h0M217.0 186.7h0M225.1 187.0h0M221.8 186.3h0M218.6 188.8h0M230.4 195.4h0M219.5 188.2h0M226.4 193.7h0M233.2 194.8h0M229.3 194.7h0M212.6 190.4h0M217.8 193.6h0M230.4 192.5h0M229.2 193.5h0M217.8 196.1h0M230.6 193.0h0M235.3 190.8h0M231.8 186.5h0M237.6 194.6h0M224.1 195.1h0M218.5 185.2h0M222.4 188.1h0M232.2 185.2h0M220.1 195.1h0M217.1 187.9h0M243.7 202.1h0M250.4 207.8h0M240.2 200.8h0M254.8 204.1h0M260.2 204.5h0M243.0 201.7h0M274.7 219.3h0M272.8 221.9h0M244.6 199.5h0M252.3 209.3h0M247.4 207.6h0M267.2 222.1h0M263.3 210.9h0M272.8 219.3h0M238.2 202.1h0M252.1 197.7h0M260.1 207.5h0M245.5 206.3h0M250.6 198.3h0M239.3 204.1h0M272.3 223.7h0M235.9 203.6h0M245.4 201.7h0M271.2 212.9h0M251.0 195.9h0M268.7 207.8h0M242.3 199.5h0M275.6 217.3h0M264.6 209.1h0M248.8 206.7h0M249.7 206.8h0M239.2 204.1h0M242.1 207.2h0M237.7 203.4h0M245.0 202.0h0M237.0 207.9h0M264.1 203.8h0M240.7 211.8h0M233.0 223.2h0M254.4 229.2h0M234.2 221.8h0M235.2 219.0h0M255.4 232.4h0M250.0 232.1h0M246.8 222.5h0M237.1 224.0h0M257.7 231.3h0M254.0 233.1h0M236.2 216.8h0M243.2 211.0h0M246.1 209.8h0M250.8 230.1h0M254.0 224.6h0M247.0 230.3h0M244.5 230.0h0M252.9 228.4h0M236.9 212.3h0M235.1 222.8h0M249.5 232.9h0M253.7 231.7h0M253.5 226.3h0M244.2 217.7h0M232.9 215.1h0M251.8 225.5h0M232.0 274.0h0M238.3 275.1h0M216.4 267.2h0M193.0 256.6h0M194.2 263.6h0M217.8 262.4h0M212.4 258.1h0M193.0 248.7h0M224.7 272.0h0M224.2 262.2h0M243.9 272.6h0M244.7 268.9h0M254.3 268.5h0M208.9 267.3h0M201.1 250.5h0M249.4 277.0h0M220.8 261.2h0M211.9 253.8h0M210.8 265.4h0M259.0 273.2h0M225.6 272.1h0M245.1 270.0h0M215.7 268.5h0M199.7 270.0h0M210.9 256.1h0M198.3 248.0h0M204.3 269.1h0M205.7 253.5h0M234.6 263.9h0M194.3 265.8h0M204.9 269.5h0M192.5 249.1h0M220.7 264.1h0M216.0 255.8h0M254.9 272.5h0M235.7 267.7h0M248.8 276.0h0M223.9 269.1h0M245.1 275.9h0M244.8 276.3h0M252.5 275.4h0M253.8 272.3h0M241.1 271.6h0M241.2 272.8h0M201.1 268.1h0M204.7 267.7h0M211.3 257.8h0M213.1 265.7h0M191.7 261.0h0M251.8 270.5h0M226.7 263.5h0M218.9 258.9h0M208.6 254.0h0M223.2 262.4h0M210.6 254.7h0M243.0 273.2h0M197.0 248.5h0M247.1 272.1h0M231.4 263.8h0M233.0 265.0h0M237.3 246.4h0M241.3 257.2h0M252.0 261.2h0M246.5 257.8h0M229.3 248.7h0M226.7 239.4h0M237.9 244.5h0M222.3 244.3h0M212.6 236.6h0M244.6 246.6h0M234.5 238.5h0M226.5 239.0h0M257.0 259.0h0M251.9 254.2h0M223.2 248.8h0M229.2 249.7h0M213.3 239.7h0M215.9 240.3h0M215.6 242.2h0M221.0 241.2h0M235.9 243.6h0M233.7 243.2h0M238.4 248.3h0M243.2 248.8h0M259.9 259.2h0M210.3 235.5h0M259.8 261.3h0M214.6 236.7h0M211.9 241.6h0M247.8 250.5h0M227.8 239.0h0M211.5 238.8h0M245.4 249.5h0M256.2 255.2h0M235.9 243.5h0M211.8 239.5h0M246.4 255.6h0M241.9 259.1h0M241.4 248.3h0M258.3 260.1h0M235.0 245.0h0M210.9 239.7h0M243.4 249.8h0M257.6 257.2h0M226.4 235.6h0M127.0 292.7h0M143.4 287.2h0M146.9 286.3h0M123.6 291.6h0M142.3 292.9h0M125.4 295.0h0M143.0 286.6h0M137.1 288.4h0M128.5 296.4h0M149.7 287.2h0M147.6 286.5h0M135.1 288.9h0M141.0 295.0h0M128.4 292.6h0M134.3 297.3h0M130.6 294.9h0M149.4 288.3h0M136.0 285.3h0M147.1 285.7h0M144.8 288.9h0M131.6 296.6h0M129.6 293.2h0M126.8 294.9h0M149.5 284.1h0M126.5 288.7h0M160.2 289.6h0M162.7 277.2h0M163.4 279.0h0M154.3 286.9h0M170.8 286.8h0M172.1 280.8h0M161.6 282.4h0M157.8 287.9h0M172.0 284.7h0M168.8 286.5h0M168.6 282.2h0M156.4 289.4h0M146.2 279.6h0M162.0 276.8h0M164.6 286.8h0M161.1 285.6h0M171.4 286.5h0M166.6 289.1h0M156.4 279.7h0M174.2 280.8h0M174.5 284.8h0M168.4 287.8h0M159.2 279.4h0M165.5 281.2h0M174.7 281.8h0M172.4 281.5h0M172.6 282.6h0M202.5 298.8h0M196.4 290.0h0M214.2 295.3h0M205.3 296.5h0M219.3 303.8h0M196.5 292.4h0M208.2 293.2h0M226.2 303.9h0M231.1 300.7h0M230.3 304.1h0M203.0 292.7h0M199.0 290.8h0M227.3 304.4h0M202.1 291.0h0M231.5 303.9h0M205.9 290.8h0M219.0 300.7h0M224.9 305.4h0M219.6 303.4h0M205.9 291.9h0M233.3 299.4h0M223.7 297.9h0M196.0 297.5h0M208.0 298.7h0M195.3 293.0h0M206.8 294.4h0M228.4 300.7h0M223.7 299.5h0M203.1 291.3h0M227.1 297.4h0M226.5 303.9h0M217.6 301.0h0M340.9 228.7h0M341.5 229.2h0M350.0 227.7h0M360.1 213.4h0M358.2 215.5h0M353.9 222.0h0M364.3 221.2h0M359.1 222.0h0M360.2 222.8h0M345.6 230.0h0M363.2 211.0h0M356.4 211.8h0M342.1 233.2h0M358.4 219.3h0M355.3 225.7h0M364.2 210.6h0M350.2 232.4h0M364.9 210.5h0M363.1 215.9h0M344.7 231.4h0M365.3 225.0h0M354.7 217.9h0M358.9 217.1h0M352.7 229.0h0M364.5 212.3h0M314.8 291.1h0M314.5 296.2h0M320.3 293.4h0M319.4 293.4h0M313.8 292.0h0M310.6 293.0h0M319.6 292.3h0M321.2 300.3h0M314.3 290.6h0M313.6 295.3h0M310.5 289.9h0M320.9 298.2h0M313.2 285.2h0M311.8 286.8h0M319.5 299.2h0M322.5 301.7h0M322.8 302.6h0"/><path stroke="#cd4252" d="M144.1 140.5h0M152.8 147.3h0M157.2 145.5h0M149.6 138.6h0M153.5 149.6h0M154.0 140.6h0M153.5 154.6h0M154.8 149.5h0M142.9 149.0h0M149.3 138.9h0M150.3 150.5h0M152.8 139.5h0M152.4 152.3h0M152.4 139.7h0M151.6 151.1h0M149.8 139.5h0M148.7 144.2h0M157.0 138.1h0M151.1 140.0h0M141.3 146.6h0M295.8 181.5h0M288.9 173.7h0M288.0 186.4h0M296.8 159.9h0M300.6 177.5h0M294.0 171.8h0M290.6 161.3h0M289.6 165.0h0M298.6 156.4h0M288.8 179.0h0M291.0 189.9h0M304.5 162.6h0M306.9 166.3h0M286.2 188.4h0M295.8 187.4h0M305.5 175.1h0M301.6 177.2h0M293.3 166.2h0M296.3 187.5h0M302.6 174.2h0M287.3 192.5h0M297.3 192.5h0M304.2 177.2h0M291.8 191.3h0M286.0 177.6h0M290.1 163.9h0M293.3 194.9h0M302.5 162.4h0M300.4 181.4h0M299.5 157.6h0M304.6 164.5h0M295.8 156.9h0M180.3 230.1h0M184.9 227.9h0M185.9 231.1h0M195.9 228.8h0M192.3 226.4h0M188.9 225.5h0M201.8 232.2h0M200.6 235.7h0M200.2 235.0h0M189.4 233.7h0M183.1 225.8h0M195.9 225.4h0M196.1 225.7h0M183.9 230.7h0M196.6 229.2h0M201.3 233.6h0M194.9 222.3h0M199.9 229.3h0M196.0 235.7h0M194.6 226.2h0M192.4 229.4h0M201.0 229.1h0M147.4 239.0h0M149.2 231.0h0M156.6 240.6h0M160.8 240.5h0M150.5 236.9h0M152.4 241.4h0M144.7 238.1h0M167.3 236.5h0M147.6 238.9h0M152.0 240.2h0M152.2 231.7h0M160.7 236.4h0M150.0 233.5h0M163.0 235.3h0M149.9 233.6h0M143.5 236.8h0M161.3 239.1h0M158.6 237.8h0M156.5 233.8h0M154.4 233.3h0M154.4 229.8h0M152.8 240.3h0M167.8 242.2h0M181.9 239.8h0M176.6 240.5h0M171.1 236.4h0M178.2 243.9h0M173.7 246.0h0M174.0 243.7h0M165.9 238.9h0M175.9 243.1h0M172.3 238.5h0M169.5 246.0h0M178.6 238.5h0M182.1 240.7h0M182.3 241.2h0M166.1 246.2h0M172.4 240.4h0M173.5 239.7h0M280.3 233.4h0M288.2 251.1h0M284.3 242.1h0M271.0 242.7h0M287.8 251.9h0M281.6 239.2h0M264.1 233.2h0M265.5 236.9h0M283.3 239.8h0M263.1 233.8h0M278.3 228.1h0M283.2 248.8h0M279.9 230.4h0M283.2 240.8h0M276.7 227.8h0M287.7 246.2h0M276.9 234.3h0M274.0 244.7h0M279.2 235.3h0M261.9 236.1h0M277.6 248.7h0M274.9 245.2h0M275.0 234.5h0M268.9 242.0h0M273.5 228.0h0M284.4 244.1h0M288.0 250.7h0M264.9 261.4h0M253.4 248.0h0M272.1 258.5h0M257.9 248.3h0M255.3 249.4h0M268.9 255.2h0M261.4 258.6h0M267.4 251.5h0M274.7 258.1h0M255.8 250.7h0M265.9 261.1h0M273.0 258.9h0M254.6 251.0h0M252.0 245.9h0M266.1 257.4h0M268.0 262.2h0M270.0 264.6h0M259.1 246.1h0M265.9 255.6h0M260.9 248.7h0M164.9 289.4h0M160.5 290.9h0M200.3 315.1h0M178.6 306.9h0M159.4 294.9h0M179.7 310.0h0M162.1 307.8h0M192.5 311.4h0M185.6 308.3h0M207.8 314.4h0M184.8 293.1h0M187.8 308.6h0M189.6 312.3h0M176.9 287.8h0M189.3 310.3h0M189.2 297.3h0M169.5 308.9h0M201.7 306.3h0M210.1 310.3h0M164.7 307.2h0M178.4 308.2h0M169.8 288.0h0M160.8 290.4h0M201.7 303.2h0M175.8 286.0h0M199.9 305.8h0M184.6 292.9h0M167.0 308.3h0M176.0 305.9h0M161.4 304.0h0M188.9 291.3h0M154.0 299.5h0M209.8 311.0h0M174.7 306.8h0M167.1 306.4h0M157.8 291.8h0M156.5 291.3h0M176.1 290.3h0M207.8 310.2h0M159.6 306.9h0M201.2 301.8h0M192.6 297.9h0M156.3 295.8h0M168.7 290.1h0M171.9 288.4h0M158.4 294.7h0M194.7 312.6h0M187.4 293.1h0M202.6 312.1h0M173.2 287.5h0M198.2 305.5h0M182.8 302.5h0M198.0 303.6h0M178.8 290.8h0M157.2 293.7h0M225.0 283.5h0M223.7 285.3h0M221.5 283.6h0M216.5 281.5h0M220.0 285.5h0M219.2 279.2h0M214.0 284.3h0M228.1 285.0h0M211.6 281.8h0M214.3 285.7h0M212.9 285.8h0M216.1 281.3h0M243.2 295.0h0M244.8 295.2h0M227.4 292.9h0M229.7 296.6h0M246.3 295.0h0M228.2 292.0h0M236.5 289.3h0M227.1 291.9h0M241.0 295.2h0M252.2 294.3h0M223.6 294.4h0M231.6 297.5h0M230.1 295.2h0M227.4 291.7h0M237.4 296.5h0M385.8 208.4h0M374.1 215.0h0M375.8 199.0h0M384.4 202.4h0M381.4 204.2h0M373.3 210.4h0M377.4 203.3h0M384.3 211.8h0M381.9 204.0h0M379.1 202.0h0M370.7 205.6h0M384.1 210.9h0M383.3 205.0h0M385.8 205.1h0M377.5 203.6h0M374.3 202.2h0M381.2 212.1h0M376.1 217.0h0M383.0 202.6h0M385.3 207.9h0M380.4 200.4h0M375.0 212.3h0M382.2 201.4h0M382.0 217.6h0M387.0 209.0h0M395.0 221.4h0M396.5 223.2h0M421.5 201.0h0M403.2 209.8h0M399.8 220.0h0M393.2 224.4h0M403.6 214.5h0M403.8 203.3h0M392.3 220.6h0M397.4 213.2h0M419.8 202.7h0M409.4 199.3h0M407.1 201.1h0M400.2 220.6h0M409.9 209.9h0M400.8 210.0h0M403.7 216.3h0M398.1 220.9h0M405.1 215.3h0M417.4 205.6h0M401.6 208.2h0M401.3 218.8h0M419.1 205.2h0M415.6 208.0h0M399.4 217.3h0M398.9 215.6h0M395.3 221.6h0M405.5 202.1h0M417.9 205.8h0M403.9 205.5h0M417.8 209.2h0M408.7 214.4h0M352.4 280.6h0M331.8 278.7h0M342.1 282.9h0M329.1 278.2h0M335.0 283.9h0M338.6 282.6h0M324.4 279.1h0M340.0 276.3h0M337.5 280.8h0M351.2 273.2h0M333.7 275.7h0M322.9 277.7h0M338.6 282.7h0M355.9 280.5h0M329.9 281.5h0M334.4 275.7h0M328.3 283.3h0M351.8 277.3h0M347.0 276.0h0M339.9 275.3h0M318.4 339.0h0M316.7 340.4h0M317.9 337.3h0M316.0 330.8h0M321.5 317.4h0M315.7 342.3h0M314.5 333.3h0M324.0 325.4h0M321.2 314.6h0M323.1 317.3h0M319.1 340.6h0M320.7 336.9h0M314.9 335.6h0M326.5 324.8h0M328.7 319.0h0M315.4 338.9h0M315.5 331.5h0M317.9 337.0h0M312.4 333.8h0M315.0 337.1h0M260.7 314.9h0M261.5 313.0h0M261.9 311.8h0M247.5 322.1h0M248.3 322.3h0M253.5 318.3h0M254.9 316.7h0M263.4 315.0h0M254.7 313.5h0M255.3 317.2h0M247.9 326.0h0M256.9 312.8h0M300.4 302.8h0M303.3 289.3h0M304.3 291.7h0M301.8 312.7h0M302.4 309.7h0M303.7 294.0h0M300.7 312.0h0M305.7 297.5h0M304.5 296.6h0M304.7 313.2h0M302.3 310.4h0M305.7 307.8h0M306.2 295.8h0M305.4 298.5h0M306.3 297.1h0M304.0 303.6h0M304.6 307.9h0M242.4 330.3h0M252.9 323.6h0M223.6 332.5h0M236.2 336.2h0M247.6 328.5h0M233.7 327.9h0M231.7 330.3h0M222.9 330.9h0M230.4 335.5h0M236.1 336.2h0M246.1 326.1h0M236.2 337.7h0M234.2 329.4h0M246.1 326.7h0M228.8 340.2h0M254.6 321.4h0M222.0 331.8h0M240.9 327.0h0M224.9 332.1h0M245.4 332.8h0M244.9 330.2h0M230.4 332.8h0M240.2 330.9h0M227.7 335.9h0M255.4 321.6h0M235.5 333.0h0M252.7 325.0h0M258.2 322.8h0M237.5 333.2h0M240.7 325.0h0M276.4 348.7h0M264.5 344.8h0M276.5 338.6h0M269.3 353.6h0M279.3 340.3h0M256.1 349.9h0M251.4 348.9h0M265.7 356.4h0M275.1 351.7h0M272.9 344.2h0M274.7 352.6h0M258.1 348.7h0M258.7 350.8h0M265.7 353.2h0M280.8 342.2h0M280.4 339.9h0M280.3 335.1h0M276.5 350.5h0M255.9 345.8h0M271.1 352.5h0M255.0 351.1h0M252.6 346.6h0M276.4 340.3h0M258.5 344.7h0M279.5 336.3h0M284.5 228.9h0M282.4 229.0h0M283.6 228.1h0M287.7 225.5h0M283.0 227.6h0M283.6 221.9h0M282.7 228.6h0M286.1 227.5h0M282.2 223.8h0M284.9 225.4h0M280.8 222.1h0M284.9 228.6h0"/><path stroke="#5b3399" d="M325.8 138.7h0M324.9 130.3h0M328.6 127.6h0M326.9 127.7h0M316.2 123.0h0M330.3 129.3h0M327.8 131.5h0M329.5 133.8h0M324.8 134.7h0M321.0 136.9h0M311.1 130.4h0M319.2 126.2h0M325.5 138.4h0M324.3 138.0h0M316.6 130.7h0M325.8 130.0h0M320.4 125.4h0M334.1 136.9h0M331.9 132.4h0M334.1 139.5h0M321.8 134.1h0M320.2 126.5h0M333.6 137.0h0M322.3 124.7h0M326.9 126.9h0M315.6 127.8h0M315.6 124.1h0M318.8 134.8h0M314.8 124.1h0M320.8 136.9h0M323.7 124.2h0M318.6 125.5h0M333.4 136.2h0M322.1 136.2h0M310.6 125.3h0M312.6 126.0h0M325.2 130.6h0M311.4 131.4h0M319.9 135.4h0M331.7 137.2h0M329.6 133.2h0M322.2 135.4h0M389.7 254.2h0M388.9 251.4h0M422.5 237.6h0M410.1 236.3h0M426.0 243.5h0M397.2 252.3h0M409.3 256.2h0M419.6 256.8h0M418.0 237.2h0M417.7 237.1h0M408.9 259.0h0M392.3 251.1h0M416.3 241.2h0M427.4 239.0h0M419.1 237.5h0M431.0 239.6h0M394.0 256.0h0M403.0 256.6h0M405.7 243.6h0M415.8 256.8h0M416.6 255.9h0M395.7 249.8h0M393.0 253.0h0M399.6 244.6h0M391.9 249.6h0M402.8 256.0h0M391.4 250.3h0M418.1 237.8h0M419.0 255.3h0M418.8 256.2h0M401.6 257.0h0M421.7 254.8h0M401.6 242.7h0M430.6 245.1h0M424.7 240.7h0M428.9 252.0h0M428.5 247.5h0"/><path stroke="#72c2a4" d="M204.4 206.7h0M179.2 212.1h0M187.7 217.3h0M200.8 210.7h0M192.7 216.6h0M199.4 204.6h0M196.4 205.9h0M200.4 208.2h0M178.9 218.3h0M198.9 201.9h0M196.3 205.7h0M193.8 206.6h0M183.6 209.8h0M200.2 210.9h0M190.8 214.7h0M202.9 210.3h0M183.5 214.4h0M196.8 214.0h0M196.4 204.5h0M201.4 212.6h0M189.5 217.8h0M190.3 216.1h0M183.1 215.1h0M190.9 213.7h0M180.1 210.9h0M203.1 202.9h0M201.3 213.0h0M228.0 203.9h0M233.7 203.5h0M222.1 205.5h0M224.3 209.9h0M231.1 206.9h0M232.4 205.9h0M229.9 206.7h0M229.3 204.5h0M225.5 204.9h0M228.3 206.4h0M228.9 206.9h0M224.9 204.3h0M234.3 204.0h0M234.3 205.9h0M225.6 207.3h0M337.5 240.8h0M335.4 240.8h0M346.3 235.5h0M346.4 237.2h0M357.9 238.9h0M359.1 241.8h0M358.7 240.9h0M351.8 234.3h0M348.7 247.6h0M348.8 242.2h0M354.2 248.1h0M360.2 246.6h0M363.3 240.6h0M352.9 238.3h0M339.2 242.1h0M336.9 238.2h0M339.9 239.3h0M361.4 244.8h0M355.4 239.5h0M355.6 248.9h0M350.7 247.0h0M354.9 245.5h0M293.8 214.5h0M302.0 217.5h0M296.3 218.7h0M291.7 217.0h0M301.5 219.4h0M297.2 216.4h0M299.6 214.2h0M289.1 216.6h0M301.4 215.1h0M293.9 218.4h0M292.4 218.0h0M293.8 218.6h0M300.0 216.2h0M302.3 216.1h0M295.3 213.0h0"/><path stroke="#4586c3" d="M338.4 231.4h0M300.4 278.3h0M308.6 278.1h0M344.2 199.2h0M353.2 223.8h0M324.0 251.6h0M344.1 201.3h0M356.9 218.9h0M326.0 211.5h0M287.8 261.0h0M362.3 208.8h0M333.9 273.4h0M338.8 231.3h0M331.5 235.4h0M298.6 252.4h0M338.3 200.2h0M292.5 259.8h0M308.7 280.0h0M291.6 276.0h0M316.0 278.0h0M348.3 226.6h0M355.1 225.4h0M361.2 209.7h0M300.1 252.1h0M351.8 226.4h0M323.9 245.7h0M308.1 282.2h0M329.1 237.2h0M305.1 246.4h0M348.8 224.3h0M289.7 266.7h0M343.4 268.1h0M315.1 281.3h0M346.2 227.6h0M345.2 226.3h0M342.8 202.2h0M302.4 244.2h0M298.1 275.0h0M315.8 278.0h0M343.0 229.5h0M330.1 258.2h0M304.0 249.0h0M305.9 246.2h0M353.3 225.4h0M350.9 225.8h0M303.9 248.5h0M351.1 201.3h0M324.6 257.3h0M333.3 273.5h0M357.2 202.5h0M338.6 203.3h0M333.0 233.1h0M336.8 233.8h0M303.6 251.4h0M300.9 249.4h0M317.4 215.7h0M326.4 239.4h0M304.5 241.2h0M338.8 269.7h0M360.7 210.8h0M355.8 202.5h0M298.6 253.5h0M346.4 226.9h0M334.3 252.2h0M326.5 206.2h0M303.2 246.7h0M345.1 265.6h0M292.5 257.0h0M329.7 241.7h0M293.8 252.9h0M353.6 220.6h0M295.0 252.9h0M360.1 220.8h0M333.0 204.7h0M289.1 269.4h0M316.5 221.9h0M359.0 208.0h0M320.9 213.5h0M344.5 200.2h0M293.4 256.6h0M359.4 211.0h0M322.9 275.6h0M358.6 209.7h0M344.7 257.8h0M359.1 205.2h0M291.1 273.4h0M354.1 223.8h0"/></g>
<g id="labels" font-size="6" font-weight="bold" fill="#222" text-anchor="middle"><text x="140.9" y="151.5">12</text><text x="188.5" y="139.6">40</text><text x="184.1" y="167.6">58</text><text x="254.2" y="135.7">14</text><text x="323.4" y="129.4">90</text><text x="236.0" y="171.8">69</text><text x="302.7" y="166.1">88</text><text x="382.5" y="163.7">28</text><text x="141.4" y="179.4">10</text><text x="180.2" y="197.9">55</text><text x="141.4" y="209.4">19</text><text x="167.9" y="211.0">16</text><text x="199.1" y="209.4">84</text><text x="215.2" y="196.4">87</text><text x="260.2" y="201.5">67</text><text x="267.8" y="220.2">53</text><text x="236.0" y="229.4">91</text><text x="131.7" y="220.2">13</text><text x="170.9" y="225.9">31</text><text x="119.5" y="239.3">04</text><text x="155.2" y="235.2">09</text><text x="175.5" y="239.8">27</text><text x="110.9" y="268.6">07</text><text x="199.3" y="267.4">85</text><text x="229.1" y="253.5">73</text><text x="266.2" y="245.1">64</text><text x="254.5" y="256.7">36</text><text x="141.4" y="291.4">41</text><text x="152.5" y="285.9">38</text><text x="166.8" y="300.2">29</text><text x="188.7" y="292.1">61</text><text x="167.2" y="317.5">20</text><text x="184.1" y="319.8">06</text><text x="196.8" y="312.4">49</text><text x="209.2" y="296.1">74</text><text x="235.5" y="284.6">79</text><text x="242.9" y="295.9">26</text><text x="253.5" y="294.4">65</text><text x="272.5" y="276.8">57</text><text x="277.5" y="294.6">21</text><text x="282.4" y="319.7">54</text><text x="228.5" y="339.8">42</text><text x="276.1" y="348.3">45</text><text x="327.9" y="326.0">37</text><text x="316.5" y="291.6">50</text><text x="344.0" y="286.1">33</text><text x="342.3" y="184.4">01</text><text x="386.5" y="207.2">63</text><text x="403.0" y="214.6">34</text><text x="418.3" y="246.3">52</text><text x="307.7" y="202.9">35</text><text x="336.9" y="209.8">C4</text><text x="348.5" y="207.5">75</text><text x="337.7" y="218.3">C1</text><text x="350.0" y="222.9">45</text><text x="360.5" y="215.6">52</text><text x="326.9" y="227.5">44</text><text x="304.3" y="229.9">90</text><text x="327.6" y="235.1">83</text><text x="304.3" y="242.0">92</text><text x="324.1" y="244.6">C3</text><text x="344.0" y="239.4">46</text><text x="357.9" y="249.8">66</text><text x="300.8" y="256.7">81</text><text x="328.4" y="261.9">C2</text><text x="291.2" y="266.2">76</text><text x="339.7" y="268.8">82</text><text x="315.5" y="272.3">88</text><text x="328.4" y="274.0">89</text><text x="293.8" y="277.5">56</text><text x="306.0" y="280.1">51</text></g>
<g stroke="#8a8a8a" stroke-width="1.9" fill="none"><path d="M86.1 112 V366.9 H446"/><path d="M84 166.5 H86"/><path d="M84 238.5 H86"/><path d="M84 310.5 H86"/><path d="M159.5 366.9 V368.8"/><path d="M262.9 366.9 V368.8"/><path d="M366.3 366.9 V368.8"/></g>
<g font-size="6.8" fill="#1a1a1a" stroke="#1a1a1a" stroke-width="0.15"><text x="82.6" y="168.9" text-anchor="end">10</text><text x="82.6" y="240.9" text-anchor="end">0</text><text x="82.6" y="312.9" text-anchor="end">−10</text><text x="159.5" y="375.2" text-anchor="middle">−10</text><text x="262.9" y="375.2" text-anchor="middle">0</text><text x="366.3" y="375.2" text-anchor="middle">10</text></g>
<text x="265.7" y="107.4" font-size="8.8" font-weight="bold" text-anchor="middle" fill="#111">mono.poly</text>
<text x="265.6" y="383.1" font-size="7.3" text-anchor="middle" fill="#1a1a1a" stroke="#1a1a1a" stroke-width="0.15">UMAP_1</text>
<text transform="translate(68.7 239.6) rotate(-90)" font-size="7.3" text-anchor="middle" fill="#1a1a1a" stroke="#1a1a1a" stroke-width="0.15">UMAP_2</text>
<g font-size="6.85" fill="#1a1a1a" stroke="#1a1a1a" stroke-width="0.12"><circle cx="154.6" cy="398.9" r="3.6" fill="#3a7cc0"/><text x="166.7" y="402">Control</text><circle cx="199.4" cy="398.9" r="3.6" fill="#64b99b"/><text x="211.4" y="402">MGUS</text><circle cx="242.8" cy="398.9" r="3.6" fill="#f2d985"/><text x="254.4" y="402">SMM</text><circle cx="282" cy="398.9" r="3.6" fill="#e66e46"/><text x="294" y="402">NDMM</text><circle cx="326.2" cy="398.9" r="3.6" fill="#c83c4b"/><text x="338.2" y="402">RRMM</text><circle cx="370.6" cy="398.9" r="3.6" fill="#5a3296"/><text x="382.2" y="402">PCL</text></g>
</svg>
<svg width="520" height="657" viewBox="0 0 520 657" style="font-family:'Liberation Sans',sans-serif">
<g stroke="#111" stroke-width="1.4" fill="none">
<path d="M125.2 487.7 V628.6 M125.2 623.1 H372.8"/>
<path d="M119.5 623.1 H125.2"/><path d="M119.5 596.0 H125.2"/><path d="M119.5 568.9 H125.2"/><path d="M119.5 541.7 H125.2"/><path d="M119.5 514.6 H125.2"/><path d="M119.5 487.5 H125.2"/><path d="M125.2 623.1 V628.6"/><path d="M174.8 623.1 V628.6"/><path d="M224.4 623.1 V628.6"/><path d="M274.0 623.1 V628.6"/><path d="M323.6 623.1 V628.6"/><path d="M373.2 623.1 V628.6"/>
</g>
<g font-size="9.2" font-weight="bold" fill="#111"><text x="118.6" y="626.4" text-anchor="end">0</text><text x="118.6" y="599.3" text-anchor="end">20</text><text x="118.6" y="572.2" text-anchor="end">40</text><text x="118.6" y="545.0" text-anchor="end">60</text><text x="118.6" y="517.9" text-anchor="end">80</text><text x="118.6" y="490.8" text-anchor="end">100</text><text x="125.6" y="637.8" text-anchor="middle">-9</text><text x="175.2" y="637.8" text-anchor="middle">-8</text><text x="224.8" y="637.8" text-anchor="middle">-7</text><text x="274.4" y="637.8" text-anchor="middle">-6</text><text x="324.0" y="637.8" text-anchor="middle">-5</text><text x="373.6" y="637.8" text-anchor="middle">-4</text>
<text x="248.8" y="473.3" font-size="11.5" text-anchor="middle">JIM3</text>
<text x="249" y="653.3" font-size="9.7" text-anchor="middle">Log [AG270]</text>
<text transform="translate(95.3 557) rotate(-90)" font-size="9.4" text-anchor="middle">% Cell viability</text>
</g>
<g stroke="#777" stroke-width="0.9" fill="none">
<path d="M174.8 500.5 L224.4 500.5 L264.1 500.5 L274.0 500.5 L274.5 500.6 L275.0 500.6 L275.5 500.6 L276.0 500.6 L276.5 500.6 L277.0 500.6 L277.5 500.7 L278.0 500.7 L278.5 500.7 L279.0 500.8 L279.5 500.9 L280.0 500.9 L280.4 501.1 L280.9 501.2 L281.4 501.4 L281.9 501.6 L282.4 501.8 L282.9 502.2 L283.4 502.6 L283.9 503.1 L284.4 503.7 L284.9 504.5 L285.4 505.4 L285.9 506.6 L286.4 507.9 L286.9 509.5 L287.4 511.4 L287.9 513.5 L288.4 516.0 L288.9 518.6 L289.4 521.5 L289.9 524.5 L290.4 527.6 L290.9 530.7 L291.4 533.8 L291.9 536.6 L292.4 539.3 L292.8 541.7 L293.3 543.9 L293.8 545.7 L294.3 547.3 L294.8 548.7 L295.3 549.8 L295.8 550.8 L296.3 551.5 L296.8 552.2 L297.3 552.7 L297.8 553.1 L298.3 553.4 L298.8 553.7 L299.3 553.9 L299.8 554.1 L300.3 554.2 L300.8 554.3 L301.3 554.4 L301.8 554.5 L302.3 554.5 L302.8 554.6 L303.3 554.6 L303.8 554.6 L304.3 554.7 L304.8 554.7 L305.2 554.7 L305.7 554.7 L306.2 554.7 L306.7 554.7 L307.2 554.7 L307.7 554.7 L308.2 554.7 L308.7 554.7 L309.2 554.7 L309.7 554.8 L310.2 554.8 L310.7 554.8 L311.2 554.8 L311.7 554.8 L312.2 554.8 L312.7 554.8 L313.2 554.8 L313.7 554.8 L314.2 554.8 L314.7 554.8 L315.2 554.8 L315.7 554.8 L316.2 554.8 L316.7 554.8 L317.2 554.8 L317.6 554.8 L318.1 554.8 L318.6 554.8 L319.1 554.8 L319.6 554.8 L320.1 554.8 L320.6 554.8 L321.1 554.8 L321.6 554.8 L322.1 554.8 L322.6 554.8 L323.1 554.8 L323.6 554.8"/>
<path d="M174.8 502.0 L224.4 502.0 L264.1 502.0 L274.0 502.0 L274.5 502.0 L275.0 502.1 L275.5 502.1 L276.0 502.1 L276.5 502.1 L277.0 502.1 L277.5 502.1 L278.0 502.2 L278.5 502.2 L279.0 502.3 L279.5 502.3 L280.0 502.4 L280.4 502.5 L280.9 502.7 L281.4 502.8 L281.9 503.0 L282.4 503.3 L282.9 503.6 L283.4 504.0 L283.9 504.5 L284.4 505.2 L284.9 505.9 L285.4 506.9 L285.9 508.0 L286.4 509.3 L286.9 511.0 L287.4 512.8 L287.9 515.0 L288.4 517.5 L288.9 520.3 L289.4 523.3 L289.9 526.6 L290.4 529.9 L290.9 533.3 L291.4 536.7 L291.9 539.9 L292.4 543.0 L292.8 545.7 L293.3 548.2 L293.8 550.4 L294.3 552.3 L294.8 553.9 L295.3 555.3 L295.8 556.4 L296.3 557.3 L296.8 558.1 L297.3 558.7 L297.8 559.2 L298.3 559.6 L298.8 560.0 L299.3 560.2 L299.8 560.4 L300.3 560.6 L300.8 560.7 L301.3 560.8 L301.8 560.9 L302.3 561.0 L302.8 561.1 L303.3 561.1 L303.8 561.1 L304.3 561.2 L304.8 561.2 L305.2 561.2 L305.7 561.2 L306.2 561.2 L306.7 561.2 L307.2 561.2 L307.7 561.2 L308.2 561.2 L308.7 561.3 L309.2 561.3 L309.7 561.3 L310.2 561.3 L310.7 561.3 L311.2 561.3 L311.7 561.3 L312.2 561.3 L312.7 561.3 L313.2 561.3 L313.7 561.3 L314.2 561.3 L314.7 561.3 L315.2 561.3 L315.7 561.3 L316.2 561.3 L316.7 561.3 L317.2 561.3 L317.6 561.3 L318.1 561.3 L318.6 561.3 L319.1 561.3 L319.6 561.3 L320.1 561.3 L320.6 561.3 L321.1 561.3 L321.6 561.3 L322.1 561.3 L322.6 561.3 L323.1 561.3 L323.6 561.3"/>
<path d="M174.8 505.4 L224.4 505.4 L264.1 505.4 L274.0 505.5 L274.5 505.5 L275.0 505.6 L275.5 505.6 L276.0 505.6 L276.5 505.7 L277.0 505.8 L277.5 505.8 L278.0 505.9 L278.5 506.0 L279.0 506.1 L279.5 506.3 L280.0 506.5 L280.4 506.7 L280.9 506.9 L281.4 507.2 L281.9 507.6 L282.4 508.0 L282.9 508.5 L283.4 509.1 L283.9 509.8 L284.4 510.6 L284.9 511.6 L285.4 512.7 L285.9 514.0 L286.4 515.5 L286.9 517.2 L287.4 519.1 L287.9 521.2 L288.4 523.5 L288.9 526.1 L289.4 528.8 L289.9 531.7 L290.4 534.8 L290.9 537.9 L291.4 541.0 L291.9 544.1 L292.4 547.1 L292.8 550.0 L293.3 552.8 L293.8 555.3 L294.3 557.7 L294.8 559.8 L295.3 561.7 L295.8 563.4 L296.3 564.9 L296.8 566.2 L297.3 567.3 L297.8 568.2 L298.3 569.1 L298.8 569.8 L299.3 570.4 L299.8 570.9 L300.3 571.3 L300.8 571.6 L301.3 571.9 L301.8 572.2 L302.3 572.4 L302.8 572.6 L303.3 572.7 L303.8 572.9 L304.3 573.0 L304.8 573.0 L305.2 573.1 L305.7 573.2 L306.2 573.2 L306.7 573.3 L307.2 573.3 L307.7 573.3 L308.2 573.4 L308.7 573.4 L309.2 573.4 L309.7 573.4 L310.2 573.4 L310.7 573.4 L311.2 573.4 L311.7 573.4 L312.2 573.4 L312.7 573.4 L313.2 573.5 L313.7 573.5 L314.2 573.5 L314.7 573.5 L315.2 573.5 L315.7 573.5 L316.2 573.5 L316.7 573.5 L317.2 573.5 L317.6 573.5 L318.1 573.5 L318.6 573.5 L319.1 573.5 L319.6 573.5 L320.1 573.5 L320.6 573.5 L321.1 573.5 L321.6 573.5 L322.1 573.5 L322.6 573.5 L323.1 573.5 L323.6 573.5"/>
<path d="M174.8 517.9 L224.4 517.9 L264.1 517.9 L274.0 518.0 L274.5 518.0 L275.0 518.1 L275.5 518.1 L276.0 518.2 L276.5 518.3 L277.0 518.4 L277.5 518.5 L278.0 518.6 L278.5 518.8 L279.0 519.1 L279.5 519.4 L280.0 519.8 L280.4 520.2 L280.9 520.8 L281.4 521.6 L281.9 522.5 L282.4 523.6 L282.9 524.9 L283.4 526.6 L283.9 528.5 L284.4 530.9 L284.9 533.6 L285.4 536.8 L285.9 540.4 L286.4 544.5 L286.9 548.9 L287.4 553.6 L287.9 558.5 L288.4 563.4 L288.9 568.3 L289.4 573.0 L289.9 577.4 L290.4 581.4 L290.9 585.0 L291.4 588.2 L291.9 591.0 L292.4 593.3 L292.8 595.3 L293.3 596.9 L293.8 598.3 L294.3 599.4 L294.8 600.3 L295.3 601.0 L295.8 601.6 L296.3 602.1 L296.8 602.5 L297.3 602.8 L297.8 603.0 L298.3 603.2 L298.8 603.4 L299.3 603.5 L299.8 603.6 L300.3 603.7 L300.8 603.7 L301.3 603.8 L301.8 603.8 L302.3 603.9 L302.8 603.9 L303.3 603.9 L303.8 603.9 L304.3 603.9 L304.8 603.9 L305.2 603.9 L305.7 604.0 L306.2 604.0 L306.7 604.0 L307.2 604.0 L307.7 604.0 L308.2 604.0 L308.7 604.0 L309.2 604.0 L309.7 604.0 L310.2 604.0 L310.7 604.0 L311.2 604.0 L311.7 604.0 L312.2 604.0 L312.7 604.0 L313.2 604.0 L313.7 604.0 L314.2 604.0 L314.7 604.0 L315.2 604.0 L315.7 604.0 L316.2 604.0 L316.7 604.0 L317.2 604.0 L317.6 604.0 L318.1 604.0 L318.6 604.0 L319.1 604.0 L319.6 604.0 L320.1 604.0 L320.6 604.0 L321.1 604.0 L321.6 604.0 L322.1 604.0 L322.6 604.0 L323.1 604.0 L323.6 604.0"/>
</g>
<circle cx="174.8" cy="504.2" r="3.0" fill="#111"/>
<circle cx="224.4" cy="502.0" r="3.0" fill="#111"/>
<circle cx="274.0" cy="500.0" r="3.0" fill="#111"/>
<circle cx="288.9" cy="514.6" r="3.0" fill="#111"/>
<circle cx="303.3" cy="556.2" r="3.0" fill="#111"/>
<circle cx="317.7" cy="555.6" r="3.0" fill="#111"/>
<circle cx="323.6" cy="551.5" r="3.0" fill="#111"/>
<rect x="172.1" y="503.0" width="5.4" height="5.4" fill="#111"/>
<rect x="221.7" y="498.8" width="5.4" height="5.4" fill="#111"/>
<rect x="271.3" y="493.7" width="5.4" height="5.4" fill="#111"/>
<rect x="286.2" y="522.8" width="5.4" height="5.4" fill="#111"/>
<rect x="300.6" y="559.7" width="5.4" height="5.4" fill="#111"/>
<rect x="315.0" y="559.2" width="5.4" height="5.4" fill="#111"/>
<rect x="320.9" y="556.0" width="5.4" height="5.4" fill="#111"/>
<path d="M171.8 513.0 L177.8 513.0 L174.8 507.6Z" fill="#111"/>
<path d="M221.4 508.9 L227.4 508.9 L224.4 503.5Z" fill="#111"/>
<path d="M271.0 507.1 L277.0 507.1 L274.0 501.7Z" fill="#111"/>
<path d="M285.9 532.3 L291.9 532.3 L288.9 526.9Z" fill="#111"/>
<path d="M300.3 575.7 L306.3 575.7 L303.3 570.3Z" fill="#111"/>
<path d="M314.7 576.8 L320.7 576.8 L317.7 571.4Z" fill="#111"/>
<path d="M320.6 576.1 L326.6 576.1 L323.6 570.7Z" fill="#111"/>
<rect x="171.9" y="517.6" width="5.8" height="5.8" fill="#fff" stroke="#222" stroke-width="1"/>
<rect x="221.5" y="514.8" width="5.8" height="5.8" fill="#fff" stroke="#222" stroke-width="1"/>
<rect x="271.1" y="513.3" width="5.8" height="5.8" fill="#fff" stroke="#222" stroke-width="1"/>
<rect x="286.0" y="563.0" width="5.8" height="5.8" fill="#fff" stroke="#222" stroke-width="1"/>
<rect x="300.4" y="601.1" width="5.8" height="5.8" fill="#fff" stroke="#222" stroke-width="1"/>
<rect x="314.8" y="601.1" width="5.8" height="5.8" fill="#fff" stroke="#222" stroke-width="1"/>
<rect x="320.7" y="601.1" width="5.8" height="5.8" fill="#fff" stroke="#222" stroke-width="1"/>
<g stroke="#333" stroke-width="0.9"><path d="M395 536.6 H408 M395 553 H408 M395 569.7 H408 M395 586 H408"/></g>
<circle cx="401.5" cy="536.6" r="2.9" fill="#111"/>
<rect x="398.8" y="550.3" width="5.4" height="5.4" fill="#111"/>
<path d="M398.5 572.1 L404.5 572.1 L401.5 566.7Z" fill="#111"/>
<rect x="398.9" y="583.4" width="5.2" height="5.2" fill="#fff" stroke="#222" stroke-width="1"/>
<g font-size="9.3" font-weight="bold" fill="#111"><text x="415.8" y="539.9">12 h</text><text x="415.8" y="556.3">24 h</text><text x="415.8" y="573">48 h</text><text x="415.8" y="589.3">72 h</text></g>
</svg>
</body></html>
